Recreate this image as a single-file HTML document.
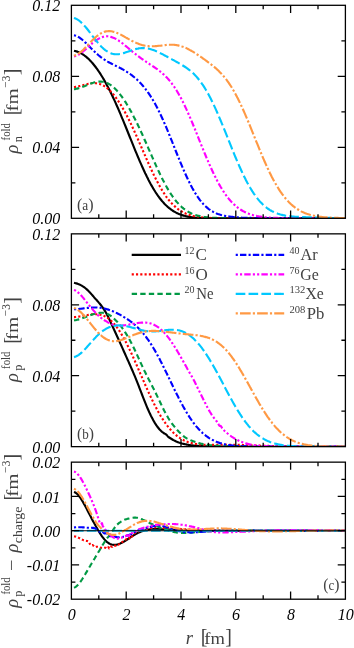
<!DOCTYPE html>
<html><head><meta charset="utf-8"><title>densities</title>
<style>
html,body{margin:0;padding:0;background:#fff;}
svg{display:block;}
.tk{font-family:"Liberation Serif","DejaVu Serif",serif;font-style:italic;font-size:16px;fill:#000;}
.cm{font-family:"Liberation Serif","DejaVu Serif",serif;fill:#424242;}
.it{font-style:italic;}
.cv{fill:none;stroke-width:2.14;stroke-linejoin:round;}
.fr{fill:none;stroke:#000;stroke-width:1.30;}
</style></head><body>
<svg width="354" height="648" viewBox="0 0 354 648">
<rect x="0" y="0" width="354" height="648" fill="#ffffff"/>
<g opacity="0.999">
<defs>
<clipPath id="clipa"><rect x="71.40" y="5.30" width="274.00" height="213.00"/></clipPath>
<clipPath id="clipb"><rect x="71.40" y="233.85" width="274.00" height="212.80"/></clipPath>
<clipPath id="clipc"><rect x="71.40" y="462.15" width="274.00" height="137.05"/></clipPath>
</defs>
<g clip-path="url(#clipa)">
<path class="cv" stroke="#000000" d="M74.0,50.8 L74.8,51.0 L75.6,51.1 L76.4,51.4 L77.2,51.6 L78.0,51.9 L78.8,52.2 L79.6,52.6 L80.4,53.0 L81.2,53.4 L82.0,53.8 L82.8,54.3 L83.6,54.9 L84.4,55.5 L85.2,56.1 L86.0,56.7 L86.8,57.4 L87.6,58.1 L88.4,58.8 L89.2,59.6 L90.0,60.4 L90.8,61.2 L91.6,62.1 L92.4,63.0 L93.2,64.0 L94.0,65.0 L94.8,66.0 L95.6,67.0 L96.4,68.1 L97.2,69.2 L98.0,70.3 L98.8,71.5 L99.6,72.7 L100.4,73.9 L101.2,75.2 L102.0,76.5 L102.8,77.8 L103.6,79.1 L104.4,80.5 L105.2,81.9 L106.0,83.4 L106.8,84.9 L107.6,86.4 L108.4,87.9 L109.2,89.5 L110.0,91.1 L110.8,92.7 L111.6,94.3 L112.4,96.0 L113.2,97.7 L114.0,99.4 L114.8,101.1 L115.6,102.9 L116.4,104.7 L117.2,106.5 L118.0,108.3 L118.8,110.2 L119.6,112.0 L120.4,113.9 L121.2,115.8 L122.0,117.8 L122.8,119.7 L123.6,121.6 L124.4,123.6 L125.2,125.5 L126.0,127.5 L126.8,129.5 L127.6,131.5 L128.4,133.5 L129.2,135.5 L130.0,137.5 L130.8,139.4 L131.6,141.4 L132.4,143.4 L133.2,145.4 L134.0,147.3 L134.8,149.3 L135.6,151.3 L136.4,153.2 L137.2,155.1 L138.0,157.0 L138.8,158.9 L139.6,160.8 L140.4,162.6 L141.2,164.4 L142.0,166.2 L142.8,168.0 L143.6,169.8 L144.4,171.5 L145.2,173.2 L146.0,174.8 L146.8,176.5 L147.6,178.1 L148.4,179.7 L149.2,181.2 L150.0,182.7 L150.8,184.2 L151.6,185.6 L152.4,187.0 L153.2,188.4 L154.0,189.7 L154.8,191.0 L155.6,192.3 L156.4,193.5 L157.2,194.7 L158.0,195.8 L158.8,196.9 L159.6,198.0 L160.4,199.0 L161.2,200.0 L162.0,201.0 L162.8,201.9 L163.6,202.8 L164.4,203.7 L165.2,204.5 L166.0,205.3 L166.8,206.0 L167.6,206.8 L168.4,207.4 L169.2,208.1 L170.0,208.7 L170.8,209.3 L171.6,209.9 L172.4,210.5 L173.2,211.0 L174.0,211.5 L174.8,211.9 L175.6,212.4 L176.4,212.8 L177.2,213.2 L178.0,213.6 L178.8,213.9 L179.6,214.2 L180.4,214.5 L181.2,214.8 L182.0,215.1 L182.8,215.4 L183.6,215.6 L184.4,215.8 L185.2,216.0 L186.0,216.2 L186.8,216.4 L187.6,216.6 L188.4,216.7 L189.2,216.9 L190.0,217.0 L190.8,217.1 L191.6,217.3 L192.4,217.4 L193.2,217.5 L194.0,217.5 L194.8,217.6 L195.6,217.7 L196.4,217.8 L197.2,217.8 L198.0,217.9 L198.8,217.9 L199.6,218.0 L200.4,218.0 L201.2,218.1 L202.0,218.1 L202.8,218.1 L203.6,218.2 L204.4,218.2 L205.2,218.2 L206.0,218.2 L206.8,218.2 L207.6,218.3 L208.4,218.3 L209.2,218.3 L210.0,218.3 L210.8,218.3 L211.6,218.3 L212.4,218.3 L213.2,218.3 L214.0,218.3 L214.8,218.3 L215.6,218.3 L216.4,218.3 L217.2,218.3 L218.0,218.3 L218.8,218.3 L219.6,218.3 L220.4,218.3 L221.2,218.3 L222.0,218.3 L222.8,218.3 L223.6,218.3 L224.4,218.3 L225.2,218.3 L226.0,218.3 L226.8,218.3 L227.6,218.3 L228.4,218.3 L229.2,218.3 L230.0,218.3 L230.8,218.3 L231.6,218.3 L232.4,218.3 L233.2,218.3 L234.0,218.3 L234.8,218.3 L235.6,218.3 L236.4,218.3 L237.2,218.3 L238.0,218.3 L238.8,218.3 L239.6,218.3 L240.4,218.3 L241.2,218.3 L242.0,218.3 L242.8,218.3 L243.6,218.3 L244.4,218.3 L245.2,218.3 L246.0,218.3 L246.8,218.3 L247.6,218.3 L248.4,218.3 L249.2,218.3 L250.0,218.3 L250.8,218.3 L251.6,218.3 L252.4,218.3 L253.2,218.3 L254.0,218.3 L254.8,218.3 L255.6,218.3 L256.4,218.3 L257.2,218.3 L258.0,218.3 L258.8,218.3 L259.6,218.3 L260.4,218.3 L261.2,218.3 L262.0,218.3 L262.8,218.3 L263.6,218.3 L264.4,218.3 L265.2,218.3 L266.0,218.3 L266.8,218.3 L267.6,218.3 L268.4,218.3 L269.2,218.3 L270.0,218.3 L270.8,218.3 L271.6,218.3 L272.4,218.3 L273.2,218.3 L274.0,218.3 L274.8,218.3 L275.6,218.3 L276.4,218.3 L277.2,218.3 L278.0,218.3 L278.8,218.3 L279.6,218.3 L280.4,218.3 L281.2,218.3 L282.0,218.3 L282.8,218.3 L283.6,218.3 L284.4,218.3 L285.2,218.3 L286.0,218.3 L286.8,218.3 L287.6,218.3 L288.4,218.3 L289.2,218.3 L290.0,218.3 L290.8,218.3 L291.6,218.3 L292.4,218.3 L293.2,218.3 L294.0,218.3 L294.8,218.3 L295.6,218.3 L296.4,218.3 L297.2,218.3 L298.0,218.3 L298.8,218.3 L299.6,218.3 L300.4,218.3 L301.2,218.3 L302.0,218.3 L302.8,218.3 L303.6,218.3 L304.4,218.3 L305.2,218.3 L306.0,218.3 L306.8,218.3 L307.6,218.3 L308.4,218.3 L309.2,218.3 L310.0,218.3 L310.8,218.3 L311.6,218.3 L312.4,218.3 L313.2,218.3 L314.0,218.3 L314.8,218.3 L315.6,218.3 L316.4,218.3 L317.2,218.3 L318.0,218.3 L318.8,218.3 L319.6,218.3 L320.4,218.3 L321.2,218.3 L322.0,218.3 L322.8,218.3 L323.6,218.3 L324.4,218.3 L325.2,218.3 L326.0,218.3 L326.8,218.3 L327.6,218.3 L328.4,218.3 L329.2,218.3 L330.0,218.3 L330.8,218.3 L331.6,218.3 L332.4,218.3 L333.2,218.3 L334.0,218.3 L334.8,218.3 L335.6,218.3 L336.4,218.3 L337.2,218.3 L338.0,218.3 L338.8,218.3 L339.6,218.3 L340.4,218.3 L341.2,218.3 L342.0,218.3 L342.8,218.3 L343.6,218.3 L344.4,218.3 L345.2,218.3"/>
<path class="cv" stroke="#ff0000" stroke-dasharray="2.14,2.14" d="M74.0,87.1 L74.8,87.0 L75.6,86.9 L76.4,86.8 L77.2,86.6 L78.0,86.5 L78.8,86.3 L79.6,86.1 L80.4,85.9 L81.2,85.7 L82.0,85.5 L82.8,85.3 L83.6,85.0 L84.4,84.8 L85.2,84.6 L86.0,84.4 L86.8,84.2 L87.6,84.0 L88.4,83.8 L89.2,83.7 L90.0,83.5 L90.8,83.4 L91.6,83.3 L92.4,83.2 L93.2,83.2 L94.0,83.1 L94.8,83.1 L95.6,83.2 L96.4,83.3 L97.2,83.4 L98.0,83.5 L98.8,83.7 L99.6,83.9 L100.4,84.2 L101.2,84.5 L102.0,84.9 L102.8,85.3 L103.6,85.7 L104.4,86.2 L105.2,86.7 L106.0,87.2 L106.8,87.8 L107.6,88.5 L108.4,89.2 L109.2,89.9 L110.0,90.7 L110.8,91.5 L111.6,92.3 L112.4,93.2 L113.2,94.2 L114.0,95.1 L114.8,96.2 L115.6,97.2 L116.4,98.3 L117.2,99.4 L118.0,100.6 L118.8,101.8 L119.6,103.0 L120.4,104.3 L121.2,105.6 L122.0,106.9 L122.8,108.3 L123.6,109.7 L124.4,111.1 L125.2,112.6 L126.0,114.1 L126.8,115.6 L127.6,117.2 L128.4,118.7 L129.2,120.3 L130.0,122.0 L130.8,123.6 L131.6,125.3 L132.4,127.0 L133.2,128.7 L134.0,130.5 L134.8,132.2 L135.6,134.0 L136.4,135.8 L137.2,137.6 L138.0,139.4 L138.8,141.2 L139.6,143.1 L140.4,144.9 L141.2,146.7 L142.0,148.6 L142.8,150.4 L143.6,152.3 L144.4,154.1 L145.2,155.9 L146.0,157.8 L146.8,159.6 L147.6,161.4 L148.4,163.2 L149.2,165.0 L150.0,166.7 L150.8,168.5 L151.6,170.2 L152.4,171.9 L153.2,173.6 L154.0,175.3 L154.8,176.9 L155.6,178.5 L156.4,180.1 L157.2,181.6 L158.0,183.1 L158.8,184.6 L159.6,186.0 L160.4,187.4 L161.2,188.8 L162.0,190.1 L162.8,191.4 L163.6,192.7 L164.4,193.9 L165.2,195.1 L166.0,196.3 L166.8,197.4 L167.6,198.4 L168.4,199.5 L169.2,200.5 L170.0,201.4 L170.8,202.4 L171.6,203.2 L172.4,204.1 L173.2,204.9 L174.0,205.7 L174.8,206.4 L175.6,207.1 L176.4,207.8 L177.2,208.5 L178.0,209.1 L178.8,209.7 L179.6,210.2 L180.4,210.7 L181.2,211.2 L182.0,211.7 L182.8,212.2 L183.6,212.6 L184.4,213.0 L185.2,213.3 L186.0,213.7 L186.8,214.0 L187.6,214.3 L188.4,214.6 L189.2,214.9 L190.0,215.1 L190.8,215.4 L191.6,215.6 L192.4,215.8 L193.2,216.0 L194.0,216.2 L194.8,216.4 L195.6,216.5 L196.4,216.7 L197.2,216.8 L198.0,216.9 L198.8,217.0 L199.6,217.1 L200.4,217.2 L201.2,217.3 L202.0,217.4 L202.8,217.5 L203.6,217.6 L204.4,217.6 L205.2,217.7 L206.0,217.7 L206.8,217.8 L207.6,217.8 L208.4,217.9 L209.2,217.9 L210.0,217.9 L210.8,218.0 L211.6,218.0 L212.4,218.0 L213.2,218.0 L214.0,218.1 L214.8,218.1 L215.6,218.1 L216.4,218.1 L217.2,218.1 L218.0,218.2 L218.8,218.2 L219.6,218.2 L220.4,218.2 L221.2,218.2 L222.0,218.2 L222.8,218.2 L223.6,218.2 L224.4,218.2 L225.2,218.2 L226.0,218.2 L226.8,218.2 L227.6,218.2 L228.4,218.2 L229.2,218.2 L230.0,218.3 L230.8,218.3 L231.6,218.3 L232.4,218.3 L233.2,218.3 L234.0,218.3 L234.8,218.3 L235.6,218.3 L236.4,218.3 L237.2,218.3 L238.0,218.3 L238.8,218.3 L239.6,218.3 L240.4,218.3 L241.2,218.3 L242.0,218.3 L242.8,218.3 L243.6,218.3 L244.4,218.3 L245.2,218.3 L246.0,218.3 L246.8,218.3 L247.6,218.3 L248.4,218.3 L249.2,218.3 L250.0,218.3 L250.8,218.3 L251.6,218.3 L252.4,218.3 L253.2,218.3 L254.0,218.3 L254.8,218.3 L255.6,218.3 L256.4,218.3 L257.2,218.3 L258.0,218.3 L258.8,218.3 L259.6,218.3 L260.4,218.3 L261.2,218.3 L262.0,218.3 L262.8,218.3 L263.6,218.3 L264.4,218.3 L265.2,218.3 L266.0,218.3 L266.8,218.3 L267.6,218.3 L268.4,218.3 L269.2,218.3 L270.0,218.3 L270.8,218.3 L271.6,218.3 L272.4,218.3 L273.2,218.3 L274.0,218.3 L274.8,218.3 L275.6,218.3 L276.4,218.3 L277.2,218.3 L278.0,218.3 L278.8,218.3 L279.6,218.3 L280.4,218.3 L281.2,218.3 L282.0,218.3 L282.8,218.3 L283.6,218.3 L284.4,218.3 L285.2,218.3 L286.0,218.3 L286.8,218.3 L287.6,218.3 L288.4,218.3 L289.2,218.3 L290.0,218.3 L290.8,218.3 L291.6,218.3 L292.4,218.3 L293.2,218.3 L294.0,218.3 L294.8,218.3 L295.6,218.3 L296.4,218.3 L297.2,218.3 L298.0,218.3 L298.8,218.3 L299.6,218.3 L300.4,218.3 L301.2,218.3 L302.0,218.3 L302.8,218.3 L303.6,218.3 L304.4,218.3 L305.2,218.3 L306.0,218.3 L306.8,218.3 L307.6,218.3 L308.4,218.3 L309.2,218.3 L310.0,218.3 L310.8,218.3 L311.6,218.3 L312.4,218.3 L313.2,218.3 L314.0,218.3 L314.8,218.3 L315.6,218.3 L316.4,218.3 L317.2,218.3 L318.0,218.3 L318.8,218.3 L319.6,218.3 L320.4,218.3 L321.2,218.3 L322.0,218.3 L322.8,218.3 L323.6,218.3 L324.4,218.3 L325.2,218.3 L326.0,218.3 L326.8,218.3 L327.6,218.3 L328.4,218.3 L329.2,218.3 L330.0,218.3 L330.8,218.3 L331.6,218.3 L332.4,218.3 L333.2,218.3 L334.0,218.3 L334.8,218.3 L335.6,218.3 L336.4,218.3 L337.2,218.3 L338.0,218.3 L338.8,218.3 L339.6,218.3 L340.4,218.3 L341.2,218.3 L342.0,218.3 L342.8,218.3 L343.6,218.3 L344.4,218.3 L345.2,218.3"/>
<path class="cv" stroke="#009944" stroke-dasharray="5.35,3.21" d="M74.0,89.2 L74.8,89.1 L75.6,88.9 L76.4,88.8 L77.2,88.6 L78.0,88.4 L78.8,88.2 L79.6,87.9 L80.4,87.7 L81.2,87.4 L82.0,87.1 L82.8,86.8 L83.6,86.5 L84.4,86.2 L85.2,85.9 L86.0,85.5 L86.8,85.2 L87.6,84.9 L88.4,84.6 L89.2,84.2 L90.0,83.9 L90.8,83.6 L91.6,83.3 L92.4,83.0 L93.2,82.8 L94.0,82.5 L94.8,82.3 L95.6,82.1 L96.4,81.9 L97.2,81.8 L98.0,81.7 L98.8,81.6 L99.6,81.6 L100.4,81.6 L101.2,81.6 L102.0,81.7 L102.8,81.8 L103.6,81.9 L104.4,82.1 L105.2,82.3 L106.0,82.6 L106.8,82.9 L107.6,83.3 L108.4,83.7 L109.2,84.1 L110.0,84.6 L110.8,85.1 L111.6,85.7 L112.4,86.3 L113.2,87.0 L114.0,87.7 L114.8,88.4 L115.6,89.2 L116.4,90.1 L117.2,90.9 L118.0,91.8 L118.8,92.8 L119.6,93.8 L120.4,94.8 L121.2,95.8 L122.0,96.9 L122.8,98.1 L123.6,99.2 L124.4,100.4 L125.2,101.7 L126.0,102.9 L126.8,104.2 L127.6,105.5 L128.4,106.9 L129.2,108.3 L130.0,109.7 L130.8,111.1 L131.6,112.6 L132.4,114.1 L133.2,115.6 L134.0,117.2 L134.8,118.7 L135.6,120.3 L136.4,121.9 L137.2,123.6 L138.0,125.2 L138.8,126.9 L139.6,128.6 L140.4,130.4 L141.2,132.1 L142.0,133.8 L142.8,135.6 L143.6,137.4 L144.4,139.2 L145.2,141.0 L146.0,142.8 L146.8,144.6 L147.6,146.4 L148.4,148.3 L149.2,150.1 L150.0,151.9 L150.8,153.7 L151.6,155.6 L152.4,157.4 L153.2,159.2 L154.0,161.0 L154.8,162.8 L155.6,164.6 L156.4,166.4 L157.2,168.1 L158.0,169.8 L158.8,171.6 L159.6,173.2 L160.4,174.9 L161.2,176.6 L162.0,178.2 L162.8,179.8 L163.6,181.3 L164.4,182.8 L165.2,184.3 L166.0,185.8 L166.8,187.2 L167.6,188.6 L168.4,190.0 L169.2,191.3 L170.0,192.6 L170.8,193.8 L171.6,195.0 L172.4,196.2 L173.2,197.3 L174.0,198.4 L174.8,199.5 L175.6,200.5 L176.4,201.5 L177.2,202.4 L178.0,203.3 L178.8,204.2 L179.6,205.0 L180.4,205.8 L181.2,206.5 L182.0,207.3 L182.8,207.9 L183.6,208.6 L184.4,209.2 L185.2,209.8 L186.0,210.4 L186.8,210.9 L187.6,211.4 L188.4,211.9 L189.2,212.3 L190.0,212.7 L190.8,213.1 L191.6,213.5 L192.4,213.8 L193.2,214.2 L194.0,214.5 L194.8,214.8 L195.6,215.0 L196.4,215.3 L197.2,215.5 L198.0,215.7 L198.8,215.9 L199.6,216.1 L200.4,216.3 L201.2,216.5 L202.0,216.6 L202.8,216.7 L203.6,216.9 L204.4,217.0 L205.2,217.1 L206.0,217.2 L206.8,217.3 L207.6,217.4 L208.4,217.4 L209.2,217.5 L210.0,217.6 L210.8,217.6 L211.6,217.7 L212.4,217.7 L213.2,217.8 L214.0,217.8 L214.8,217.9 L215.6,217.9 L216.4,217.9 L217.2,218.0 L218.0,218.0 L218.8,218.0 L219.6,218.0 L220.4,218.1 L221.2,218.1 L222.0,218.1 L222.8,218.1 L223.6,218.1 L224.4,218.1 L225.2,218.1 L226.0,218.1 L226.8,218.2 L227.6,218.2 L228.4,218.2 L229.2,218.2 L230.0,218.2 L230.8,218.2 L231.6,218.2 L232.4,218.2 L233.2,218.2 L234.0,218.2 L234.8,218.2 L235.6,218.2 L236.4,218.2 L237.2,218.2 L238.0,218.2 L238.8,218.2 L239.6,218.2 L240.4,218.2 L241.2,218.2 L242.0,218.2 L242.8,218.2 L243.6,218.2 L244.4,218.2 L245.2,218.2 L246.0,218.2 L246.8,218.2 L247.6,218.2 L248.4,218.2 L249.2,218.2 L250.0,218.2 L250.8,218.2 L251.6,218.2 L252.4,218.2 L253.2,218.2 L254.0,218.2 L254.8,218.2 L255.6,218.2 L256.4,218.2 L257.2,218.2 L258.0,218.2 L258.8,218.2 L259.6,218.2 L260.4,218.3 L261.2,218.3 L262.0,218.3 L262.8,218.3 L263.6,218.3 L264.4,218.3 L265.2,218.3 L266.0,218.3 L266.8,218.3 L267.6,218.3 L268.4,218.3 L269.2,218.3 L270.0,218.3 L270.8,218.3 L271.6,218.3 L272.4,218.3 L273.2,218.3 L274.0,218.3 L274.8,218.3 L275.6,218.3 L276.4,218.3 L277.2,218.3 L278.0,218.3 L278.8,218.3 L279.6,218.3 L280.4,218.3 L281.2,218.3 L282.0,218.3 L282.8,218.3 L283.6,218.3 L284.4,218.3 L285.2,218.3 L286.0,218.3 L286.8,218.3 L287.6,218.3 L288.4,218.3 L289.2,218.3 L290.0,218.3 L290.8,218.3 L291.6,218.3 L292.4,218.3 L293.2,218.3 L294.0,218.3 L294.8,218.3 L295.6,218.3 L296.4,218.3 L297.2,218.3 L298.0,218.3 L298.8,218.3 L299.6,218.3 L300.4,218.3 L301.2,218.3 L302.0,218.3 L302.8,218.3 L303.6,218.3 L304.4,218.3 L305.2,218.3 L306.0,218.3 L306.8,218.3 L307.6,218.3 L308.4,218.3 L309.2,218.3 L310.0,218.3 L310.8,218.3 L311.6,218.3 L312.4,218.3 L313.2,218.3 L314.0,218.3 L314.8,218.3 L315.6,218.3 L316.4,218.3 L317.2,218.3 L318.0,218.3 L318.8,218.3 L319.6,218.3 L320.4,218.3 L321.2,218.3 L322.0,218.3 L322.8,218.3 L323.6,218.3 L324.4,218.3 L325.2,218.3 L326.0,218.3 L326.8,218.3 L327.6,218.3 L328.4,218.3 L329.2,218.3 L330.0,218.3 L330.8,218.3 L331.6,218.3 L332.4,218.3 L333.2,218.3 L334.0,218.3 L334.8,218.3 L335.6,218.3 L336.4,218.3 L337.2,218.3 L338.0,218.3 L338.8,218.3 L339.6,218.3 L340.4,218.3 L341.2,218.3 L342.0,218.3 L342.8,218.3 L343.6,218.3 L344.4,218.3 L345.2,218.3"/>
<path class="cv" stroke="#0000ff" stroke-dasharray="2.14,2.14,6.42,2.14" d="M74.0,35.2 L74.8,35.4 L75.6,35.7 L76.4,36.0 L77.2,36.3 L78.0,36.8 L78.8,37.2 L79.6,37.7 L80.4,38.3 L81.2,38.9 L82.0,39.5 L82.8,40.2 L83.6,40.9 L84.4,41.6 L85.2,42.4 L86.0,43.1 L86.8,43.9 L87.6,44.7 L88.4,45.5 L89.2,46.3 L90.0,47.1 L90.8,48.0 L91.6,48.8 L92.4,49.6 L93.2,50.3 L94.0,51.1 L94.8,51.9 L95.6,52.6 L96.4,53.4 L97.2,54.1 L98.0,54.8 L98.8,55.5 L99.6,56.1 L100.4,56.8 L101.2,57.4 L102.0,58.0 L102.8,58.5 L103.6,59.1 L104.4,59.6 L105.2,60.1 L106.0,60.6 L106.8,61.1 L107.6,61.6 L108.4,62.0 L109.2,62.5 L110.0,62.9 L110.8,63.3 L111.6,63.7 L112.4,64.1 L113.2,64.5 L114.0,64.9 L114.8,65.3 L115.6,65.7 L116.4,66.1 L117.2,66.5 L118.0,66.9 L118.8,67.3 L119.6,67.7 L120.4,68.1 L121.2,68.5 L122.0,69.0 L122.8,69.4 L123.6,69.9 L124.4,70.3 L125.2,70.8 L126.0,71.3 L126.8,71.8 L127.6,72.3 L128.4,72.8 L129.2,73.4 L130.0,73.9 L130.8,74.5 L131.6,75.1 L132.4,75.7 L133.2,76.4 L134.0,77.0 L134.8,77.7 L135.6,78.4 L136.4,79.1 L137.2,79.8 L138.0,80.6 L138.8,81.4 L139.6,82.2 L140.4,83.0 L141.2,83.9 L142.0,84.8 L142.8,85.7 L143.6,86.6 L144.4,87.6 L145.2,88.6 L146.0,89.7 L146.8,90.7 L147.6,91.8 L148.4,93.0 L149.2,94.1 L150.0,95.3 L150.8,96.6 L151.6,97.9 L152.4,99.2 L153.2,100.5 L154.0,101.9 L154.8,103.3 L155.6,104.8 L156.4,106.3 L157.2,107.8 L158.0,109.4 L158.8,111.0 L159.6,112.6 L160.4,114.3 L161.2,116.0 L162.0,117.7 L162.8,119.5 L163.6,121.3 L164.4,123.1 L165.2,125.0 L166.0,126.8 L166.8,128.7 L167.6,130.6 L168.4,132.6 L169.2,134.5 L170.0,136.5 L170.8,138.5 L171.6,140.4 L172.4,142.4 L173.2,144.4 L174.0,146.4 L174.8,148.5 L175.6,150.5 L176.4,152.5 L177.2,154.5 L178.0,156.4 L178.8,158.4 L179.6,160.4 L180.4,162.3 L181.2,164.2 L182.0,166.1 L182.8,168.0 L183.6,169.9 L184.4,171.7 L185.2,173.5 L186.0,175.3 L186.8,177.0 L187.6,178.7 L188.4,180.4 L189.2,182.0 L190.0,183.6 L190.8,185.2 L191.6,186.7 L192.4,188.2 L193.2,189.6 L194.0,191.0 L194.8,192.4 L195.6,193.7 L196.4,194.9 L197.2,196.2 L198.0,197.3 L198.8,198.5 L199.6,199.6 L200.4,200.6 L201.2,201.6 L202.0,202.6 L202.8,203.5 L203.6,204.4 L204.4,205.2 L205.2,206.0 L206.0,206.7 L206.8,207.4 L207.6,208.1 L208.4,208.8 L209.2,209.4 L210.0,209.9 L210.8,210.5 L211.6,211.0 L212.4,211.4 L213.2,211.9 L214.0,212.3 L214.8,212.7 L215.6,213.0 L216.4,213.4 L217.2,213.7 L218.0,214.0 L218.8,214.2 L219.6,214.5 L220.4,214.7 L221.2,215.0 L222.0,215.2 L222.8,215.3 L223.6,215.5 L224.4,215.7 L225.2,215.9 L226.0,216.0 L226.8,216.1 L227.6,216.3 L228.4,216.4 L229.2,216.5 L230.0,216.6 L230.8,216.7 L231.6,216.8 L232.4,216.9 L233.2,217.0 L234.0,217.1 L234.8,217.2 L235.6,217.2 L236.4,217.3 L237.2,217.4 L238.0,217.4 L238.8,217.5 L239.6,217.5 L240.4,217.6 L241.2,217.6 L242.0,217.7 L242.8,217.7 L243.6,217.7 L244.4,217.8 L245.2,217.8 L246.0,217.8 L246.8,217.8 L247.6,217.9 L248.4,217.9 L249.2,217.9 L250.0,217.9 L250.8,217.9 L251.6,218.0 L252.4,218.0 L253.2,218.0 L254.0,218.0 L254.8,218.0 L255.6,218.0 L256.4,218.0 L257.2,218.0 L258.0,218.0 L258.8,218.1 L259.6,218.1 L260.4,218.1 L261.2,218.1 L262.0,218.1 L262.8,218.1 L263.6,218.1 L264.4,218.1 L265.2,218.1 L266.0,218.1 L266.8,218.1 L267.6,218.1 L268.4,218.1 L269.2,218.1 L270.0,218.2 L270.8,218.2 L271.6,218.2 L272.4,218.2 L273.2,218.2 L274.0,218.2 L274.8,218.2 L275.6,218.2 L276.4,218.2 L277.2,218.2 L278.0,218.2 L278.8,218.2 L279.6,218.2 L280.4,218.2 L281.2,218.2 L282.0,218.2 L282.8,218.2 L283.6,218.2 L284.4,218.2 L285.2,218.2 L286.0,218.2 L286.8,218.2 L287.6,218.2 L288.4,218.3 L289.2,218.3 L290.0,218.3 L290.8,218.3 L291.6,218.3 L292.4,218.3 L293.2,218.3 L294.0,218.3 L294.8,218.3 L295.6,218.3 L296.4,218.3 L297.2,218.3 L298.0,218.3 L298.8,218.3 L299.6,218.3 L300.4,218.3 L301.2,218.3 L302.0,218.3 L302.8,218.3 L303.6,218.3 L304.4,218.3 L305.2,218.3 L306.0,218.3 L306.8,218.3 L307.6,218.3 L308.4,218.3 L309.2,218.3 L310.0,218.3 L310.8,218.3 L311.6,218.3 L312.4,218.3 L313.2,218.3 L314.0,218.3 L314.8,218.3 L315.6,218.3 L316.4,218.3 L317.2,218.3 L318.0,218.3 L318.8,218.3 L319.6,218.3 L320.4,218.4 L321.2,218.4 L322.0,218.4 L322.8,218.4 L323.6,218.4 L324.4,218.4 L325.2,218.4 L326.0,218.4 L326.8,218.4 L327.6,218.4 L328.4,218.4 L329.2,218.4 L330.0,218.4 L330.8,218.4 L331.6,218.4 L332.4,218.4 L333.2,218.4 L334.0,218.4 L334.8,218.4 L335.6,218.4 L336.4,218.4 L337.2,218.4 L338.0,218.4 L338.8,218.4 L339.6,218.4 L340.4,218.4 L341.2,218.3 L342.0,218.3 L342.8,218.3 L343.6,218.3 L344.4,218.3 L345.2,218.3"/>
<path class="cv" stroke="#ff00ff" stroke-dasharray="2.14,2.14,2.14,2.14,6.42,2.14" d="M74.0,56.4 L74.8,56.2 L75.6,56.0 L76.4,55.7 L77.2,55.3 L78.0,54.9 L78.8,54.5 L79.6,54.0 L80.4,53.5 L81.2,52.9 L82.0,52.3 L82.8,51.7 L83.6,51.0 L84.4,50.4 L85.2,49.7 L86.0,49.0 L86.8,48.2 L87.6,47.5 L88.4,46.8 L89.2,46.1 L90.0,45.3 L90.8,44.6 L91.6,43.9 L92.4,43.2 L93.2,42.6 L94.0,41.9 L94.8,41.3 L95.6,40.7 L96.4,40.1 L97.2,39.6 L98.0,39.1 L98.8,38.6 L99.6,38.2 L100.4,37.8 L101.2,37.5 L102.0,37.2 L102.8,36.9 L103.6,36.7 L104.4,36.5 L105.2,36.4 L106.0,36.4 L106.8,36.3 L107.6,36.3 L108.4,36.4 L109.2,36.5 L110.0,36.7 L110.8,36.9 L111.6,37.1 L112.4,37.4 L113.2,37.7 L114.0,38.0 L114.8,38.4 L115.6,38.8 L116.4,39.2 L117.2,39.7 L118.0,40.2 L118.8,40.7 L119.6,41.3 L120.4,41.8 L121.2,42.4 L122.0,43.0 L122.8,43.6 L123.6,44.3 L124.4,44.9 L125.2,45.6 L126.0,46.2 L126.8,46.9 L127.6,47.5 L128.4,48.2 L129.2,48.9 L130.0,49.6 L130.8,50.2 L131.6,50.9 L132.4,51.6 L133.2,52.2 L134.0,52.9 L134.8,53.5 L135.6,54.1 L136.4,54.8 L137.2,55.4 L138.0,56.0 L138.8,56.6 L139.6,57.2 L140.4,57.8 L141.2,58.4 L142.0,59.0 L142.8,59.5 L143.6,60.1 L144.4,60.6 L145.2,61.2 L146.0,61.7 L146.8,62.3 L147.6,62.8 L148.4,63.3 L149.2,63.8 L150.0,64.4 L150.8,64.9 L151.6,65.4 L152.4,65.9 L153.2,66.5 L154.0,67.0 L154.8,67.5 L155.6,68.1 L156.4,68.7 L157.2,69.2 L158.0,69.8 L158.8,70.4 L159.6,71.0 L160.4,71.7 L161.2,72.3 L162.0,73.0 L162.8,73.7 L163.6,74.4 L164.4,75.1 L165.2,75.9 L166.0,76.7 L166.8,77.5 L167.6,78.4 L168.4,79.3 L169.2,80.2 L170.0,81.2 L170.8,82.2 L171.6,83.2 L172.4,84.3 L173.2,85.4 L174.0,86.5 L174.8,87.7 L175.6,89.0 L176.4,90.2 L177.2,91.5 L178.0,92.9 L178.8,94.2 L179.6,95.7 L180.4,97.1 L181.2,98.6 L182.0,100.2 L182.8,101.7 L183.6,103.3 L184.4,105.0 L185.2,106.7 L186.0,108.4 L186.8,110.1 L187.6,111.9 L188.4,113.7 L189.2,115.5 L190.0,117.4 L190.8,119.2 L191.6,121.1 L192.4,123.0 L193.2,125.0 L194.0,126.9 L194.8,128.9 L195.6,130.8 L196.4,132.8 L197.2,134.8 L198.0,136.8 L198.8,138.8 L199.6,140.8 L200.4,142.8 L201.2,144.8 L202.0,146.7 L202.8,148.7 L203.6,150.7 L204.4,152.6 L205.2,154.5 L206.0,156.5 L206.8,158.4 L207.6,160.2 L208.4,162.1 L209.2,163.9 L210.0,165.7 L210.8,167.5 L211.6,169.3 L212.4,171.0 L213.2,172.7 L214.0,174.4 L214.8,176.0 L215.6,177.6 L216.4,179.2 L217.2,180.7 L218.0,182.2 L218.8,183.7 L219.6,185.1 L220.4,186.5 L221.2,187.8 L222.0,189.1 L222.8,190.4 L223.6,191.6 L224.4,192.8 L225.2,194.0 L226.0,195.1 L226.8,196.2 L227.6,197.3 L228.4,198.3 L229.2,199.3 L230.0,200.2 L230.8,201.1 L231.6,202.0 L232.4,202.8 L233.2,203.6 L234.0,204.4 L234.8,205.1 L235.6,205.8 L236.4,206.5 L237.2,207.2 L238.0,207.8 L238.8,208.4 L239.6,209.0 L240.4,209.5 L241.2,210.0 L242.0,210.5 L242.8,211.0 L243.6,211.4 L244.4,211.8 L245.2,212.2 L246.0,212.6 L246.8,212.9 L247.6,213.3 L248.4,213.6 L249.2,213.9 L250.0,214.2 L250.8,214.4 L251.6,214.7 L252.4,214.9 L253.2,215.2 L254.0,215.4 L254.8,215.6 L255.6,215.8 L256.4,215.9 L257.2,216.1 L258.0,216.2 L258.8,216.4 L259.6,216.5 L260.4,216.6 L261.2,216.8 L262.0,216.9 L262.8,217.0 L263.6,217.1 L264.4,217.1 L265.2,217.2 L266.0,217.3 L266.8,217.4 L267.6,217.4 L268.4,217.5 L269.2,217.6 L270.0,217.6 L270.8,217.7 L271.6,217.7 L272.4,217.7 L273.2,217.8 L274.0,217.8 L274.8,217.8 L275.6,217.9 L276.4,217.9 L277.2,217.9 L278.0,218.0 L278.8,218.0 L279.6,218.0 L280.4,218.0 L281.2,218.0 L282.0,218.0 L282.8,218.1 L283.6,218.1 L284.4,218.1 L285.2,218.1 L286.0,218.1 L286.8,218.1 L287.6,218.1 L288.4,218.1 L289.2,218.1 L290.0,218.1 L290.8,218.1 L291.6,218.2 L292.4,218.2 L293.2,218.2 L294.0,218.2 L294.8,218.2 L295.6,218.2 L296.4,218.2 L297.2,218.2 L298.0,218.2 L298.8,218.2 L299.6,218.2 L300.4,218.2 L301.2,218.2 L302.0,218.2 L302.8,218.2 L303.6,218.2 L304.4,218.2 L305.2,218.2 L306.0,218.2 L306.8,218.2 L307.6,218.2 L308.4,218.2 L309.2,218.2 L310.0,218.2 L310.8,218.2 L311.6,218.2 L312.4,218.2 L313.2,218.2 L314.0,218.2 L314.8,218.2 L315.6,218.2 L316.4,218.2 L317.2,218.2 L318.0,218.2 L318.8,218.2 L319.6,218.2 L320.4,218.2 L321.2,218.2 L322.0,218.2 L322.8,218.2 L323.6,218.2 L324.4,218.2 L325.2,218.2 L326.0,218.2 L326.8,218.2 L327.6,218.2 L328.4,218.2 L329.2,218.2 L330.0,218.2 L330.8,218.2 L331.6,218.2 L332.4,218.2 L333.2,218.3 L334.0,218.3 L334.8,218.3 L335.6,218.3 L336.4,218.3 L337.2,218.3 L338.0,218.3 L338.8,218.3 L339.6,218.3 L340.4,218.3 L341.2,218.3 L342.0,218.3 L342.8,218.3 L343.6,218.3 L344.4,218.3 L345.2,218.3"/>
<path class="cv" stroke="#00c8ff" stroke-dasharray="9.63,3.21" d="M74.0,18.0 L74.8,18.3 L75.6,18.6 L76.4,18.9 L77.2,19.4 L78.0,19.9 L78.8,20.4 L79.6,21.0 L80.4,21.7 L81.2,22.4 L82.0,23.2 L82.8,24.0 L83.6,24.8 L84.4,25.7 L85.2,26.6 L86.0,27.5 L86.8,28.5 L87.6,29.5 L88.4,30.5 L89.2,31.6 L90.0,32.6 L90.8,33.7 L91.6,34.7 L92.4,35.8 L93.2,36.8 L94.0,37.9 L94.8,38.9 L95.6,39.9 L96.4,41.0 L97.2,41.9 L98.0,42.9 L98.8,43.8 L99.6,44.7 L100.4,45.6 L101.2,46.5 L102.0,47.3 L102.8,48.0 L103.6,48.8 L104.4,49.4 L105.2,50.1 L106.0,50.7 L106.8,51.2 L107.6,51.7 L108.4,52.2 L109.2,52.6 L110.0,53.0 L110.8,53.3 L111.6,53.6 L112.4,53.8 L113.2,54.0 L114.0,54.1 L114.8,54.2 L115.6,54.3 L116.4,54.3 L117.2,54.3 L118.0,54.2 L118.8,54.2 L119.6,54.0 L120.4,53.9 L121.2,53.7 L122.0,53.5 L122.8,53.3 L123.6,53.1 L124.4,52.9 L125.2,52.6 L126.0,52.3 L126.8,52.0 L127.6,51.8 L128.4,51.5 L129.2,51.2 L130.0,50.9 L130.8,50.6 L131.6,50.3 L132.4,50.1 L133.2,49.8 L134.0,49.6 L134.8,49.3 L135.6,49.1 L136.4,48.9 L137.2,48.7 L138.0,48.6 L138.8,48.4 L139.6,48.3 L140.4,48.2 L141.2,48.1 L142.0,48.1 L142.8,48.1 L143.6,48.1 L144.4,48.1 L145.2,48.2 L146.0,48.2 L146.8,48.4 L147.6,48.5 L148.4,48.6 L149.2,48.8 L150.0,49.0 L150.8,49.2 L151.6,49.5 L152.4,49.7 L153.2,50.0 L154.0,50.3 L154.8,50.6 L155.6,50.9 L156.4,51.3 L157.2,51.6 L158.0,52.0 L158.8,52.4 L159.6,52.8 L160.4,53.2 L161.2,53.6 L162.0,54.0 L162.8,54.4 L163.6,54.8 L164.4,55.3 L165.2,55.7 L166.0,56.1 L166.8,56.5 L167.6,57.0 L168.4,57.4 L169.2,57.8 L170.0,58.3 L170.8,58.7 L171.6,59.1 L172.4,59.6 L173.2,60.0 L174.0,60.4 L174.8,60.9 L175.6,61.3 L176.4,61.8 L177.2,62.2 L178.0,62.6 L178.8,63.1 L179.6,63.6 L180.4,64.0 L181.2,64.5 L182.0,65.0 L182.8,65.5 L183.6,66.0 L184.4,66.5 L185.2,67.0 L186.0,67.5 L186.8,68.1 L187.6,68.7 L188.4,69.3 L189.2,69.9 L190.0,70.5 L190.8,71.2 L191.6,71.9 L192.4,72.6 L193.2,73.3 L194.0,74.1 L194.8,74.9 L195.6,75.8 L196.4,76.6 L197.2,77.5 L198.0,78.5 L198.8,79.5 L199.6,80.5 L200.4,81.5 L201.2,82.6 L202.0,83.8 L202.8,84.9 L203.6,86.1 L204.4,87.4 L205.2,88.7 L206.0,90.0 L206.8,91.4 L207.6,92.8 L208.4,94.2 L209.2,95.7 L210.0,97.2 L210.8,98.8 L211.6,100.4 L212.4,102.0 L213.2,103.7 L214.0,105.4 L214.8,107.1 L215.6,108.9 L216.4,110.6 L217.2,112.5 L218.0,114.3 L218.8,116.2 L219.6,118.1 L220.4,120.0 L221.2,121.9 L222.0,123.8 L222.8,125.8 L223.6,127.8 L224.4,129.7 L225.2,131.7 L226.0,133.7 L226.8,135.7 L227.6,137.7 L228.4,139.7 L229.2,141.7 L230.0,143.7 L230.8,145.7 L231.6,147.7 L232.4,149.7 L233.2,151.7 L234.0,153.6 L234.8,155.6 L235.6,157.5 L236.4,159.4 L237.2,161.3 L238.0,163.1 L238.8,164.9 L239.6,166.8 L240.4,168.5 L241.2,170.3 L242.0,172.0 L242.8,173.7 L243.6,175.4 L244.4,177.0 L245.2,178.6 L246.0,180.2 L246.8,181.7 L247.6,183.2 L248.4,184.6 L249.2,186.1 L250.0,187.5 L250.8,188.8 L251.6,190.1 L252.4,191.4 L253.2,192.6 L254.0,193.8 L254.8,194.9 L255.6,196.1 L256.4,197.1 L257.2,198.2 L258.0,199.2 L258.8,200.1 L259.6,201.1 L260.4,202.0 L261.2,202.8 L262.0,203.6 L262.8,204.4 L263.6,205.2 L264.4,205.9 L265.2,206.6 L266.0,207.2 L266.8,207.9 L267.6,208.5 L268.4,209.0 L269.2,209.5 L270.0,210.1 L270.8,210.5 L271.6,211.0 L272.4,211.4 L273.2,211.8 L274.0,212.2 L274.8,212.6 L275.6,212.9 L276.4,213.2 L277.2,213.5 L278.0,213.8 L278.8,214.0 L279.6,214.3 L280.4,214.5 L281.2,214.7 L282.0,214.9 L282.8,215.1 L283.6,215.3 L284.4,215.4 L285.2,215.6 L286.0,215.7 L286.8,215.8 L287.6,215.9 L288.4,216.1 L289.2,216.1 L290.0,216.2 L290.8,216.3 L291.6,216.4 L292.4,216.5 L293.2,216.5 L294.0,216.6 L294.8,216.7 L295.6,216.7 L296.4,216.8 L297.2,216.8 L298.0,216.8 L298.8,216.9 L299.6,216.9 L300.4,217.0 L301.2,217.0 L302.0,217.0 L302.8,217.0 L303.6,217.1 L304.4,217.1 L305.2,217.1 L306.0,217.2 L306.8,217.2 L307.6,217.2 L308.4,217.2 L309.2,217.3 L310.0,217.3 L310.8,217.3 L311.6,217.3 L312.4,217.4 L313.2,217.4 L314.0,217.4 L314.8,217.4 L315.6,217.5 L316.4,217.5 L317.2,217.5 L318.0,217.5 L318.8,217.6 L319.6,217.6 L320.4,217.6 L321.2,217.7 L322.0,217.7 L322.8,217.7 L323.6,217.7 L324.4,217.8 L325.2,217.8 L326.0,217.8 L326.8,217.8 L327.6,217.9 L328.4,217.9 L329.2,217.9 L330.0,217.9 L330.8,218.0 L331.6,218.0 L332.4,218.0 L333.2,218.0 L334.0,218.1 L334.8,218.1 L335.6,218.1 L336.4,218.1 L337.2,218.2 L338.0,218.2 L338.8,218.2 L339.6,218.2 L340.4,218.2 L341.2,218.3 L342.0,218.3 L342.8,218.3 L343.6,218.3 L344.4,218.3 L345.2,218.3"/>
<path class="cv" stroke="#ff9944" stroke-dasharray="2.14,2.14,10.70,2.14" d="M74.0,55.7 L74.8,55.4 L75.6,55.1 L76.4,54.8 L77.2,54.4 L78.0,53.9 L78.8,53.4 L79.6,52.8 L80.4,52.2 L81.2,51.6 L82.0,50.9 L82.8,50.2 L83.6,49.4 L84.4,48.6 L85.2,47.8 L86.0,47.0 L86.8,46.1 L87.6,45.3 L88.4,44.4 L89.2,43.6 L90.0,42.7 L90.8,41.9 L91.6,41.1 L92.4,40.3 L93.2,39.5 L94.0,38.7 L94.8,37.9 L95.6,37.2 L96.4,36.5 L97.2,35.9 L98.0,35.3 L98.8,34.7 L99.6,34.1 L100.4,33.6 L101.2,33.2 L102.0,32.8 L102.8,32.4 L103.6,32.1 L104.4,31.8 L105.2,31.6 L106.0,31.4 L106.8,31.3 L107.6,31.2 L108.4,31.1 L109.2,31.1 L110.0,31.1 L110.8,31.2 L111.6,31.3 L112.4,31.5 L113.2,31.7 L114.0,31.9 L114.8,32.1 L115.6,32.4 L116.4,32.7 L117.2,33.0 L118.0,33.4 L118.8,33.7 L119.6,34.1 L120.4,34.5 L121.2,34.9 L122.0,35.3 L122.8,35.8 L123.6,36.2 L124.4,36.7 L125.2,37.1 L126.0,37.6 L126.8,38.0 L127.6,38.5 L128.4,38.9 L129.2,39.4 L130.0,39.8 L130.8,40.3 L131.6,40.7 L132.4,41.1 L133.2,41.5 L134.0,41.9 L134.8,42.3 L135.6,42.6 L136.4,43.0 L137.2,43.3 L138.0,43.6 L138.8,43.9 L139.6,44.2 L140.4,44.5 L141.2,44.7 L142.0,45.0 L142.8,45.2 L143.6,45.4 L144.4,45.5 L145.2,45.7 L146.0,45.8 L146.8,46.0 L147.6,46.1 L148.4,46.1 L149.2,46.2 L150.0,46.2 L150.8,46.3 L151.6,46.3 L152.4,46.3 L153.2,46.3 L154.0,46.2 L154.8,46.2 L155.6,46.1 L156.4,46.1 L157.2,46.0 L158.0,45.9 L158.8,45.8 L159.6,45.7 L160.4,45.7 L161.2,45.6 L162.0,45.5 L162.8,45.4 L163.6,45.3 L164.4,45.2 L165.2,45.1 L166.0,45.0 L166.8,44.9 L167.6,44.9 L168.4,44.8 L169.2,44.8 L170.0,44.7 L170.8,44.7 L171.6,44.7 L172.4,44.7 L173.2,44.8 L174.0,44.8 L174.8,44.9 L175.6,45.0 L176.4,45.1 L177.2,45.2 L178.0,45.4 L178.8,45.6 L179.6,45.8 L180.4,46.0 L181.2,46.2 L182.0,46.5 L182.8,46.7 L183.6,47.0 L184.4,47.3 L185.2,47.7 L186.0,48.0 L186.8,48.4 L187.6,48.8 L188.4,49.2 L189.2,49.6 L190.0,50.1 L190.8,50.5 L191.6,51.0 L192.4,51.4 L193.2,51.9 L194.0,52.4 L194.8,52.9 L195.6,53.4 L196.4,54.0 L197.2,54.5 L198.0,55.0 L198.8,55.5 L199.6,56.1 L200.4,56.6 L201.2,57.2 L202.0,57.7 L202.8,58.3 L203.6,58.9 L204.4,59.4 L205.2,60.0 L206.0,60.6 L206.8,61.2 L207.6,61.8 L208.4,62.4 L209.2,63.0 L210.0,63.6 L210.8,64.2 L211.6,64.8 L212.4,65.4 L213.2,66.1 L214.0,66.7 L214.8,67.4 L215.6,68.1 L216.4,68.8 L217.2,69.6 L218.0,70.3 L218.8,71.1 L219.6,71.9 L220.4,72.7 L221.2,73.5 L222.0,74.4 L222.8,75.3 L223.6,76.2 L224.4,77.2 L225.2,78.1 L226.0,79.2 L226.8,80.2 L227.6,81.3 L228.4,82.4 L229.2,83.6 L230.0,84.8 L230.8,86.0 L231.6,87.3 L232.4,88.6 L233.2,90.0 L234.0,91.3 L234.8,92.8 L235.6,94.2 L236.4,95.7 L237.2,97.3 L238.0,98.8 L238.8,100.4 L239.6,102.1 L240.4,103.8 L241.2,105.5 L242.0,107.2 L242.8,109.0 L243.6,110.8 L244.4,112.6 L245.2,114.4 L246.0,116.3 L246.8,118.2 L247.6,120.1 L248.4,122.0 L249.2,123.9 L250.0,125.9 L250.8,127.9 L251.6,129.8 L252.4,131.8 L253.2,133.8 L254.0,135.8 L254.8,137.8 L255.6,139.8 L256.4,141.8 L257.2,143.7 L258.0,145.7 L258.8,147.7 L259.6,149.6 L260.4,151.6 L261.2,153.5 L262.0,155.4 L262.8,157.3 L263.6,159.1 L264.4,161.0 L265.2,162.8 L266.0,164.6 L266.8,166.4 L267.6,168.1 L268.4,169.8 L269.2,171.5 L270.0,173.2 L270.8,174.8 L271.6,176.4 L272.4,177.9 L273.2,179.4 L274.0,180.9 L274.8,182.4 L275.6,183.8 L276.4,185.2 L277.2,186.5 L278.0,187.8 L278.8,189.1 L279.6,190.4 L280.4,191.6 L281.2,192.7 L282.0,193.9 L282.8,194.9 L283.6,196.0 L284.4,197.0 L285.2,198.0 L286.0,199.0 L286.8,199.9 L287.6,200.8 L288.4,201.6 L289.2,202.5 L290.0,203.2 L290.8,204.0 L291.6,204.7 L292.4,205.4 L293.2,206.1 L294.0,206.7 L294.8,207.3 L295.6,207.9 L296.4,208.5 L297.2,209.0 L298.0,209.5 L298.8,210.0 L299.6,210.5 L300.4,210.9 L301.2,211.4 L302.0,211.8 L302.8,212.1 L303.6,212.5 L304.4,212.8 L305.2,213.2 L306.0,213.5 L306.8,213.8 L307.6,214.0 L308.4,214.3 L309.2,214.5 L310.0,214.8 L310.8,215.0 L311.6,215.2 L312.4,215.4 L313.2,215.6 L314.0,215.8 L314.8,215.9 L315.6,216.1 L316.4,216.2 L317.2,216.4 L318.0,216.5 L318.8,216.6 L319.6,216.7 L320.4,216.8 L321.2,216.9 L322.0,217.0 L322.8,217.1 L323.6,217.2 L324.4,217.2 L325.2,217.3 L326.0,217.4 L326.8,217.4 L327.6,217.5 L328.4,217.5 L329.2,217.6 L330.0,217.6 L330.8,217.7 L331.6,217.7 L332.4,217.7 L333.2,217.8 L334.0,217.8 L334.8,217.8 L335.6,217.9 L336.4,217.9 L337.2,217.9 L338.0,217.9 L338.8,218.0 L339.6,218.0 L340.4,218.0 L341.2,218.0 L342.0,218.0 L342.8,218.0 L343.6,218.0 L344.4,218.1 L345.2,218.1"/>
</g>
<g clip-path="url(#clipb)">
<path class="cv" stroke="#000000" d="M74.0,282.8 L74.8,283.0 L75.6,283.2 L76.4,283.4 L77.2,283.6 L78.0,283.9 L78.8,284.2 L79.6,284.6 L80.4,284.9 L81.2,285.4 L82.0,285.8 L82.8,286.3 L83.6,286.8 L84.4,287.4 L85.2,288.0 L86.0,288.7 L86.8,289.4 L87.6,290.1 L88.4,290.9 L89.2,291.8 L90.0,292.6 L90.8,293.5 L91.6,294.4 L92.4,295.3 L93.2,296.2 L94.0,297.2 L94.8,298.1 L95.6,299.0 L96.4,299.8 L97.2,300.7 L98.0,301.6 L98.8,302.6 L99.6,303.5 L100.4,304.5 L101.2,305.5 L102.0,306.6 L102.8,307.7 L103.6,308.9 L104.4,310.1 L105.2,311.4 L106.0,312.8 L106.8,314.3 L107.6,315.8 L108.4,317.5 L109.2,319.1 L110.0,320.8 L110.8,322.6 L111.6,324.3 L112.4,326.0 L113.2,327.8 L114.0,329.5 L114.8,331.2 L115.6,333.0 L116.4,334.7 L117.2,336.5 L118.0,338.3 L118.8,340.0 L119.6,341.8 L120.4,343.6 L121.2,345.3 L122.0,347.1 L122.8,348.9 L123.6,350.7 L124.4,352.5 L125.2,354.3 L126.0,356.1 L126.8,357.9 L127.6,359.7 L128.4,361.4 L129.2,363.2 L130.0,365.0 L130.8,366.9 L131.6,368.7 L132.4,370.5 L133.2,372.4 L134.0,374.3 L134.8,376.2 L135.6,378.1 L136.4,380.1 L137.2,382.1 L138.0,384.1 L138.8,386.2 L139.6,388.3 L140.4,390.4 L141.2,392.4 L142.0,394.5 L142.8,396.6 L143.6,398.6 L144.4,400.7 L145.2,402.7 L146.0,404.7 L146.8,406.6 L147.6,408.5 L148.4,410.3 L149.2,412.1 L150.0,413.8 L150.8,415.5 L151.6,417.1 L152.4,418.6 L153.2,420.1 L154.0,421.5 L154.8,422.9 L155.6,424.1 L156.4,425.3 L157.2,426.5 L158.0,427.5 L158.8,428.5 L159.6,429.5 L160.4,430.3 L161.2,431.1 L162.0,431.8 L162.8,432.4 L163.6,433.0 L164.4,433.5 L165.2,433.9 L166.0,434.4 L166.8,435.1 L167.6,436.1 L168.4,437.0 L169.2,437.5 L170.0,438.0 L170.8,438.5 L171.6,439.0 L172.4,439.5 L173.2,440.0 L174.0,440.4 L174.8,440.8 L175.6,441.2 L176.4,441.6 L177.2,441.9 L178.0,442.2 L178.8,442.5 L179.6,442.7 L180.4,443.0 L181.2,443.2 L182.0,443.5 L182.8,443.7 L183.6,443.9 L184.4,444.1 L185.2,444.3 L186.0,444.4 L186.8,444.6 L187.6,444.8 L188.4,444.9 L189.2,445.0 L190.0,445.1 L190.8,445.2 L191.6,445.3 L192.4,445.4 L193.2,445.5 L194.0,445.6 L194.8,445.7 L195.6,445.7 L196.4,445.8 L197.2,445.9 L198.0,445.9 L198.8,446.0 L199.6,446.0 L200.4,446.0 L201.2,446.1 L202.0,446.1 L202.8,446.1 L203.6,446.2 L204.4,446.2 L205.2,446.2 L206.0,446.2 L206.8,446.3 L207.6,446.3 L208.4,446.3 L209.2,446.3 L210.0,446.3 L210.8,446.4 L211.6,446.4 L212.4,446.4 L213.2,446.4 L214.0,446.4 L214.8,446.4 L215.6,446.4 L216.4,446.4 L217.2,446.4 L218.0,446.5 L218.8,446.5 L219.6,446.5 L220.4,446.5 L221.2,446.5 L222.0,446.5 L222.8,446.5 L223.6,446.5 L224.4,446.5 L225.2,446.5 L226.0,446.5 L226.8,446.5 L227.6,446.5 L228.4,446.6 L229.2,446.6 L230.0,446.6 L230.8,446.6 L231.6,446.6 L232.4,446.6 L233.2,446.6 L234.0,446.6 L234.8,446.6 L235.6,446.6 L236.4,446.6 L237.2,446.6 L238.0,446.6 L238.8,446.6 L239.6,446.6 L240.4,446.6 L241.2,446.6 L242.0,446.6 L242.8,446.6 L243.6,446.6 L244.4,446.6 L245.2,446.6 L246.0,446.7 L246.8,446.7 L247.6,446.7 L248.4,446.7 L249.2,446.7 L250.0,446.7 L250.8,446.7 L251.6,446.7 L252.4,446.7 L253.2,446.7 L254.0,446.7 L254.8,446.7 L255.6,446.7 L256.4,446.7 L257.2,446.7 L258.0,446.7 L258.8,446.7 L259.6,446.7 L260.4,446.7 L261.2,446.7 L262.0,446.7 L262.8,446.7 L263.6,446.7 L264.4,446.7 L265.2,446.7 L266.0,446.7 L266.8,446.7 L267.6,446.7 L268.4,446.7 L269.2,446.7 L270.0,446.7 L270.8,446.7 L271.6,446.7 L272.4,446.7 L273.2,446.7 L274.0,446.7 L274.8,446.7 L275.6,446.7 L276.4,446.7 L277.2,446.7 L278.0,446.7 L278.8,446.7 L279.6,446.7 L280.4,446.7 L281.2,446.7 L282.0,446.7 L282.8,446.7 L283.6,446.7 L284.4,446.7 L285.2,446.7 L286.0,446.7 L286.8,446.7 L287.6,446.7 L288.4,446.7 L289.2,446.7 L290.0,446.7 L290.8,446.7 L291.6,446.7 L292.4,446.7 L293.2,446.7 L294.0,446.7 L294.8,446.7 L295.6,446.7 L296.4,446.7 L297.2,446.7 L298.0,446.7 L298.8,446.7 L299.6,446.7 L300.4,446.7 L301.2,446.7 L302.0,446.7 L302.8,446.7 L303.6,446.7 L304.4,446.7 L305.2,446.7 L306.0,446.7 L306.8,446.7 L307.6,446.7 L308.4,446.7 L309.2,446.6 L310.0,446.6 L310.8,446.6 L311.6,446.6 L312.4,446.6 L313.2,446.6 L314.0,446.6 L314.8,446.6 L315.6,446.6 L316.4,446.6 L317.2,446.6 L318.0,446.6 L318.8,446.6 L319.6,446.6 L320.4,446.6 L321.2,446.6 L322.0,446.6 L322.8,446.6 L323.6,446.6 L324.4,446.6 L325.2,446.6 L326.0,446.6 L326.8,446.6 L327.6,446.6 L328.4,446.6 L329.2,446.6 L330.0,446.6 L330.8,446.6 L331.6,446.6 L332.4,446.6 L333.2,446.6 L334.0,446.6 L334.8,446.6 L335.6,446.6 L336.4,446.6 L337.2,446.6 L338.0,446.6 L338.8,446.6 L339.6,446.6 L340.4,446.6 L341.2,446.6 L342.0,446.6 L342.8,446.6 L343.6,446.6 L344.4,446.6 L345.2,446.6"/>
<path class="cv" stroke="#ff0000" stroke-dasharray="2.14,2.14" d="M74.0,317.1 L74.8,317.1 L75.6,317.0 L76.4,316.9 L77.2,316.8 L78.0,316.7 L78.8,316.6 L79.6,316.5 L80.4,316.4 L81.2,316.2 L82.0,316.1 L82.8,315.9 L83.6,315.8 L84.4,315.6 L85.2,315.5 L86.0,315.3 L86.8,315.2 L87.6,315.0 L88.4,314.9 L89.2,314.8 L90.0,314.6 L90.8,314.5 L91.6,314.4 L92.4,314.3 L93.2,314.3 L94.0,314.2 L94.8,314.2 L95.6,314.2 L96.4,314.2 L97.2,314.3 L98.0,314.3 L98.8,314.5 L99.6,314.6 L100.4,314.8 L101.2,315.0 L102.0,315.2 L102.8,315.5 L103.6,315.8 L104.4,316.1 L105.2,316.5 L106.0,316.9 L106.8,317.4 L107.6,317.9 L108.4,318.5 L109.2,319.1 L110.0,319.8 L110.8,320.5 L111.6,321.2 L112.4,322.0 L113.2,322.8 L114.0,323.7 L114.8,324.7 L115.6,325.6 L116.4,326.7 L117.2,327.7 L118.0,328.9 L118.8,330.0 L119.6,331.2 L120.4,332.5 L121.2,333.8 L122.0,335.1 L122.8,336.5 L123.6,337.9 L124.4,339.3 L125.2,340.8 L126.0,342.3 L126.8,343.9 L127.6,345.5 L128.4,347.1 L129.2,348.7 L130.0,350.4 L130.8,352.1 L131.6,353.8 L132.4,355.6 L133.2,357.3 L134.0,359.1 L134.8,360.9 L135.6,362.7 L136.4,364.5 L137.2,366.4 L138.0,368.2 L138.8,370.1 L139.6,371.9 L140.4,373.8 L141.2,375.6 L142.0,377.4 L142.8,379.3 L143.6,381.1 L144.4,383.0 L145.2,384.8 L146.0,386.6 L146.8,388.4 L147.6,390.2 L148.4,391.9 L149.2,393.7 L150.0,395.4 L150.8,397.1 L151.6,398.8 L152.4,400.4 L153.2,402.1 L154.0,403.7 L154.8,405.2 L155.6,406.8 L156.4,408.3 L157.2,409.8 L158.0,411.3 L158.8,412.7 L159.6,414.1 L160.4,415.5 L161.2,416.8 L162.0,418.1 L162.8,419.3 L163.6,420.6 L164.4,421.8 L165.2,422.9 L166.0,424.0 L166.8,425.1 L167.6,426.2 L168.4,427.2 L169.2,428.2 L170.0,429.1 L170.8,430.0 L171.6,430.9 L172.4,431.7 L173.2,432.5 L174.0,433.3 L174.8,434.0 L175.6,434.7 L176.4,435.4 L177.2,436.1 L178.0,436.7 L178.8,437.3 L179.6,437.8 L180.4,438.3 L181.2,438.8 L182.0,439.3 L182.8,439.7 L183.6,440.2 L184.4,440.6 L185.2,440.9 L186.0,441.3 L186.8,441.6 L187.6,441.9 L188.4,442.2 L189.2,442.4 L190.0,442.7 L190.8,442.9 L191.6,443.1 L192.4,443.3 L193.2,443.5 L194.0,443.6 L194.8,443.8 L195.6,443.9 L196.4,444.0 L197.2,444.2 L198.0,444.3 L198.8,444.3 L199.6,444.4 L200.4,444.5 L201.2,444.5 L202.0,444.6 L202.8,444.6 L203.6,444.7 L204.4,444.7 L205.2,444.7 L206.0,444.8 L206.8,444.8 L207.6,444.8 L208.4,444.8 L209.2,444.8 L210.0,444.8 L210.8,444.8 L211.6,444.8 L212.4,444.8 L213.2,444.8 L214.0,444.8 L214.8,444.8 L215.6,444.8 L216.4,444.8 L217.2,444.7 L218.0,444.7 L218.8,444.7 L219.6,444.7 L220.4,444.7 L221.2,444.7 L222.0,444.7 L222.8,444.7 L223.6,444.7 L224.4,444.7 L225.2,444.7 L226.0,444.7 L226.8,444.7 L227.6,444.7 L228.4,444.7 L229.2,444.7 L230.0,444.7 L230.8,444.7 L231.6,444.7 L232.4,444.7 L233.2,444.8 L234.0,444.8 L234.8,444.8 L235.6,444.8 L236.4,444.8 L237.2,444.8 L238.0,444.9 L238.8,444.9 L239.6,444.9 L240.4,444.9 L241.2,445.0 L242.0,445.0 L242.8,445.0 L243.6,445.0 L244.4,445.1 L245.2,445.1 L246.0,445.1 L246.8,445.1 L247.6,445.2 L248.4,445.2 L249.2,445.2 L250.0,445.3 L250.8,445.3 L251.6,445.3 L252.4,445.4 L253.2,445.4 L254.0,445.4 L254.8,445.5 L255.6,445.5 L256.4,445.5 L257.2,445.5 L258.0,445.6 L258.8,445.6 L259.6,445.6 L260.4,445.7 L261.2,445.7 L262.0,445.7 L262.8,445.8 L263.6,445.8 L264.4,445.8 L265.2,445.8 L266.0,445.9 L266.8,445.9 L267.6,445.9 L268.4,445.9 L269.2,446.0 L270.0,446.0 L270.8,446.0 L271.6,446.0 L272.4,446.1 L273.2,446.1 L274.0,446.1 L274.8,446.1 L275.6,446.2 L276.4,446.2 L277.2,446.2 L278.0,446.2 L278.8,446.2 L279.6,446.2 L280.4,446.3 L281.2,446.3 L282.0,446.3 L282.8,446.3 L283.6,446.3 L284.4,446.3 L285.2,446.4 L286.0,446.4 L286.8,446.4 L287.6,446.4 L288.4,446.4 L289.2,446.4 L290.0,446.4 L290.8,446.4 L291.6,446.4 L292.4,446.5 L293.2,446.5 L294.0,446.5 L294.8,446.5 L295.6,446.5 L296.4,446.5 L297.2,446.5 L298.0,446.5 L298.8,446.5 L299.6,446.5 L300.4,446.5 L301.2,446.5 L302.0,446.5 L302.8,446.6 L303.6,446.6 L304.4,446.6 L305.2,446.6 L306.0,446.6 L306.8,446.6 L307.6,446.6 L308.4,446.6 L309.2,446.6 L310.0,446.6 L310.8,446.6 L311.6,446.6 L312.4,446.6 L313.2,446.6 L314.0,446.6 L314.8,446.6 L315.6,446.6 L316.4,446.6 L317.2,446.6 L318.0,446.6 L318.8,446.6 L319.6,446.6 L320.4,446.6 L321.2,446.6 L322.0,446.6 L322.8,446.6 L323.6,446.6 L324.4,446.6 L325.2,446.6 L326.0,446.6 L326.8,446.6 L327.6,446.6 L328.4,446.6 L329.2,446.6 L330.0,446.6 L330.8,446.6 L331.6,446.6 L332.4,446.6 L333.2,446.6 L334.0,446.6 L334.8,446.6 L335.6,446.6 L336.4,446.6 L337.2,446.6 L338.0,446.6 L338.8,446.6 L339.6,446.6 L340.4,446.6 L341.2,446.6 L342.0,446.6 L342.8,446.6 L343.6,446.6 L344.4,446.6 L345.2,446.7"/>
<path class="cv" stroke="#009944" stroke-dasharray="5.35,3.21" d="M74.0,320.4 L74.8,320.3 L75.6,320.2 L76.4,320.0 L77.2,319.8 L78.0,319.6 L78.8,319.4 L79.6,319.2 L80.4,318.9 L81.2,318.7 L82.0,318.4 L82.8,318.1 L83.6,317.8 L84.4,317.5 L85.2,317.2 L86.0,316.9 L86.8,316.6 L87.6,316.3 L88.4,316.0 L89.2,315.7 L90.0,315.4 L90.8,315.1 L91.6,314.8 L92.4,314.5 L93.2,314.3 L94.0,314.0 L94.8,313.8 L95.6,313.6 L96.4,313.4 L97.2,313.3 L98.0,313.1 L98.8,313.0 L99.6,312.9 L100.4,312.8 L101.2,312.8 L102.0,312.8 L102.8,312.8 L103.6,312.9 L104.4,313.0 L105.2,313.2 L106.0,313.4 L106.8,313.7 L107.6,314.0 L108.4,314.4 L109.2,314.8 L110.0,315.3 L110.8,315.9 L111.6,316.5 L112.4,317.2 L113.2,317.9 L114.0,318.6 L114.8,319.4 L115.6,320.2 L116.4,321.0 L117.2,321.8 L118.0,322.7 L118.8,323.7 L119.6,324.6 L120.4,325.6 L121.2,326.6 L122.0,327.7 L122.8,328.8 L123.6,329.9 L124.4,331.1 L125.2,332.3 L126.0,333.6 L126.8,334.9 L127.6,336.2 L128.4,337.6 L129.2,339.0 L130.0,340.5 L130.8,342.0 L131.6,343.5 L132.4,345.1 L133.2,346.7 L134.0,348.3 L134.8,350.0 L135.6,351.7 L136.4,353.4 L137.2,355.1 L138.0,356.9 L138.8,358.6 L139.6,360.4 L140.4,362.2 L141.2,363.9 L142.0,365.6 L142.8,367.4 L143.6,369.0 L144.4,370.7 L145.2,372.3 L146.0,373.9 L146.8,375.5 L147.6,377.1 L148.4,378.7 L149.2,380.2 L150.0,381.8 L150.8,383.3 L151.6,384.8 L152.4,386.4 L153.2,388.0 L154.0,389.5 L154.8,391.1 L155.6,392.8 L156.4,394.4 L157.2,396.1 L158.0,397.8 L158.8,399.5 L159.6,401.1 L160.4,402.8 L161.2,404.5 L162.0,406.2 L162.8,407.8 L163.6,409.4 L164.4,411.0 L165.2,412.5 L166.0,414.0 L166.8,415.4 L167.6,416.8 L168.4,418.2 L169.2,419.5 L170.0,420.7 L170.8,421.9 L171.6,423.0 L172.4,424.1 L173.2,425.2 L174.0,426.2 L174.8,427.2 L175.6,428.2 L176.4,429.1 L177.2,430.0 L178.0,430.8 L178.8,431.7 L179.6,432.5 L180.4,433.3 L181.2,434.1 L182.0,434.8 L182.8,435.5 L183.6,436.2 L184.4,436.8 L185.2,437.4 L186.0,437.9 L186.8,438.4 L187.6,438.8 L188.4,439.2 L189.2,439.6 L190.0,439.9 L190.8,440.3 L191.6,440.6 L192.4,440.9 L193.2,441.2 L194.0,441.5 L194.8,441.8 L195.6,442.1 L196.4,442.4 L197.2,442.6 L198.0,442.9 L198.8,443.1 L199.6,443.3 L200.4,443.5 L201.2,443.7 L202.0,443.9 L202.8,444.1 L203.6,444.2 L204.4,444.4 L205.2,444.5 L206.0,444.6 L206.8,444.8 L207.6,444.9 L208.4,445.0 L209.2,445.1 L210.0,445.2 L210.8,445.3 L211.6,445.3 L212.4,445.4 L213.2,445.5 L214.0,445.6 L214.8,445.6 L215.6,445.7 L216.4,445.7 L217.2,445.8 L218.0,445.8 L218.8,445.9 L219.6,445.9 L220.4,446.0 L221.2,446.0 L222.0,446.0 L222.8,446.1 L223.6,446.1 L224.4,446.1 L225.2,446.2 L226.0,446.2 L226.8,446.2 L227.6,446.2 L228.4,446.3 L229.2,446.3 L230.0,446.3 L230.8,446.3 L231.6,446.3 L232.4,446.4 L233.2,446.4 L234.0,446.4 L234.8,446.4 L235.6,446.4 L236.4,446.4 L237.2,446.4 L238.0,446.5 L238.8,446.5 L239.6,446.5 L240.4,446.5 L241.2,446.5 L242.0,446.5 L242.8,446.5 L243.6,446.6 L244.4,446.6 L245.2,446.6 L246.0,446.6 L246.8,446.6 L247.6,446.6 L248.4,446.6 L249.2,446.6 L250.0,446.6 L250.8,446.6 L251.6,446.6 L252.4,446.7 L253.2,446.7 L254.0,446.7 L254.8,446.7 L255.6,446.7 L256.4,446.7 L257.2,446.7 L258.0,446.7 L258.8,446.7 L259.6,446.7 L260.4,446.7 L261.2,446.7 L262.0,446.7 L262.8,446.7 L263.6,446.7 L264.4,446.7 L265.2,446.7 L266.0,446.7 L266.8,446.7 L267.6,446.7 L268.4,446.7 L269.2,446.7 L270.0,446.7 L270.8,446.7 L271.6,446.7 L272.4,446.7 L273.2,446.7 L274.0,446.7 L274.8,446.7 L275.6,446.7 L276.4,446.7 L277.2,446.7 L278.0,446.7 L278.8,446.7 L279.6,446.7 L280.4,446.7 L281.2,446.7 L282.0,446.7 L282.8,446.7 L283.6,446.7 L284.4,446.7 L285.2,446.7 L286.0,446.7 L286.8,446.7 L287.6,446.7 L288.4,446.7 L289.2,446.7 L290.0,446.7 L290.8,446.7 L291.6,446.7 L292.4,446.7 L293.2,446.7 L294.0,446.7 L294.8,446.7 L295.6,446.7 L296.4,446.7 L297.2,446.7 L298.0,446.7 L298.8,446.7 L299.6,446.7 L300.4,446.7 L301.2,446.7 L302.0,446.7 L302.8,446.7 L303.6,446.7 L304.4,446.7 L305.2,446.7 L306.0,446.7 L306.8,446.7 L307.6,446.7 L308.4,446.7 L309.2,446.7 L310.0,446.7 L310.8,446.7 L311.6,446.7 L312.4,446.7 L313.2,446.6 L314.0,446.6 L314.8,446.6 L315.6,446.6 L316.4,446.6 L317.2,446.6 L318.0,446.6 L318.8,446.6 L319.6,446.6 L320.4,446.6 L321.2,446.6 L322.0,446.6 L322.8,446.6 L323.6,446.6 L324.4,446.6 L325.2,446.6 L326.0,446.6 L326.8,446.6 L327.6,446.6 L328.4,446.6 L329.2,446.6 L330.0,446.6 L330.8,446.6 L331.6,446.6 L332.4,446.6 L333.2,446.6 L334.0,446.6 L334.8,446.6 L335.6,446.6 L336.4,446.6 L337.2,446.6 L338.0,446.6 L338.8,446.6 L339.6,446.6 L340.4,446.6 L341.2,446.6 L342.0,446.6 L342.8,446.6 L343.6,446.6 L344.4,446.6 L345.2,446.6"/>
<path class="cv" stroke="#0000ff" stroke-dasharray="2.14,2.14,6.42,2.14" d="M74.0,309.3 L74.8,309.3 L75.6,309.3 L76.4,309.2 L77.2,309.1 L78.0,309.1 L78.8,309.0 L79.6,308.9 L80.4,308.8 L81.2,308.7 L82.0,308.6 L82.8,308.5 L83.6,308.4 L84.4,308.3 L85.2,308.2 L86.0,308.1 L86.8,308.0 L87.6,307.9 L88.4,307.9 L89.2,307.8 L90.0,307.7 L90.8,307.6 L91.6,307.6 L92.4,307.5 L93.2,307.5 L94.0,307.5 L94.8,307.5 L95.6,307.5 L96.4,307.5 L97.2,307.5 L98.0,307.6 L98.8,307.6 L99.6,307.7 L100.4,307.8 L101.2,307.9 L102.0,308.1 L102.8,308.2 L103.6,308.4 L104.4,308.5 L105.2,308.7 L106.0,308.9 L106.8,309.2 L107.6,309.4 L108.4,309.6 L109.2,309.9 L110.0,310.2 L110.8,310.5 L111.6,310.8 L112.4,311.1 L113.2,311.4 L114.0,311.8 L114.8,312.1 L115.6,312.5 L116.4,312.9 L117.2,313.3 L118.0,313.7 L118.8,314.1 L119.6,314.5 L120.4,314.9 L121.2,315.4 L122.0,315.8 L122.8,316.3 L123.6,316.8 L124.4,317.3 L125.2,317.8 L126.0,318.3 L126.8,318.8 L127.6,319.3 L128.4,319.9 L129.2,320.4 L130.0,321.0 L130.8,321.6 L131.6,322.2 L132.4,322.8 L133.2,323.5 L134.0,324.2 L134.8,324.8 L135.6,325.5 L136.4,326.3 L137.2,327.0 L138.0,327.8 L138.8,328.6 L139.6,329.4 L140.4,330.2 L141.2,331.1 L142.0,332.0 L142.8,332.9 L143.6,333.9 L144.4,334.9 L145.2,335.9 L146.0,336.9 L146.8,338.0 L147.6,339.1 L148.4,340.2 L149.2,341.4 L150.0,342.6 L150.8,343.8 L151.6,345.1 L152.4,346.4 L153.2,347.7 L154.0,349.0 L154.8,350.4 L155.6,351.8 L156.4,353.2 L157.2,354.7 L158.0,356.1 L158.8,357.6 L159.6,359.1 L160.4,360.7 L161.2,362.2 L162.0,363.8 L162.8,365.4 L163.6,367.0 L164.4,368.6 L165.2,370.3 L166.0,371.9 L166.8,373.6 L167.6,375.2 L168.4,376.9 L169.2,378.6 L170.0,380.2 L170.8,381.9 L171.6,383.6 L172.4,385.2 L173.2,386.9 L174.0,388.5 L174.8,390.2 L175.6,391.8 L176.4,393.4 L177.2,395.0 L178.0,396.6 L178.8,398.2 L179.6,399.7 L180.4,401.3 L181.2,402.8 L182.0,404.3 L182.8,405.8 L183.6,407.2 L184.4,408.6 L185.2,410.0 L186.0,411.4 L186.8,412.7 L187.6,414.0 L188.4,415.3 L189.2,416.6 L190.0,417.8 L190.8,419.0 L191.6,420.2 L192.4,421.3 L193.2,422.4 L194.0,423.5 L194.8,424.5 L195.6,425.5 L196.4,426.5 L197.2,427.4 L198.0,428.3 L198.8,429.2 L199.6,430.1 L200.4,430.9 L201.2,431.7 L202.0,432.4 L202.8,433.2 L203.6,433.9 L204.4,434.6 L205.2,435.2 L206.0,435.8 L206.8,436.4 L207.6,437.0 L208.4,437.5 L209.2,438.1 L210.0,438.6 L210.8,439.0 L211.6,439.5 L212.4,439.9 L213.2,440.3 L214.0,440.7 L214.8,441.1 L215.6,441.4 L216.4,441.8 L217.2,442.1 L218.0,442.4 L218.8,442.6 L219.6,442.9 L220.4,443.2 L221.2,443.4 L222.0,443.6 L222.8,443.8 L223.6,444.0 L224.4,444.2 L225.2,444.4 L226.0,444.5 L226.8,444.7 L227.6,444.8 L228.4,445.0 L229.2,445.1 L230.0,445.2 L230.8,445.3 L231.6,445.4 L232.4,445.5 L233.2,445.6 L234.0,445.7 L234.8,445.8 L235.6,445.8 L236.4,445.9 L237.2,446.0 L238.0,446.0 L238.8,446.1 L239.6,446.1 L240.4,446.2 L241.2,446.2 L242.0,446.2 L242.8,446.3 L243.6,446.3 L244.4,446.3 L245.2,446.4 L246.0,446.4 L246.8,446.4 L247.6,446.4 L248.4,446.4 L249.2,446.5 L250.0,446.5 L250.8,446.5 L251.6,446.5 L252.4,446.5 L253.2,446.5 L254.0,446.5 L254.8,446.5 L255.6,446.6 L256.4,446.6 L257.2,446.6 L258.0,446.6 L258.8,446.6 L259.6,446.6 L260.4,446.6 L261.2,446.6 L262.0,446.6 L262.8,446.6 L263.6,446.6 L264.4,446.6 L265.2,446.6 L266.0,446.6 L266.8,446.6 L267.6,446.6 L268.4,446.6 L269.2,446.6 L270.0,446.6 L270.8,446.6 L271.6,446.6 L272.4,446.6 L273.2,446.6 L274.0,446.6 L274.8,446.6 L275.6,446.6 L276.4,446.6 L277.2,446.6 L278.0,446.6 L278.8,446.6 L279.6,446.6 L280.4,446.6 L281.2,446.6 L282.0,446.6 L282.8,446.6 L283.6,446.6 L284.4,446.6 L285.2,446.6 L286.0,446.6 L286.8,446.6 L287.6,446.6 L288.4,446.6 L289.2,446.6 L290.0,446.6 L290.8,446.6 L291.6,446.6 L292.4,446.6 L293.2,446.6 L294.0,446.6 L294.8,446.6 L295.6,446.6 L296.4,446.6 L297.2,446.6 L298.0,446.6 L298.8,446.6 L299.6,446.6 L300.4,446.6 L301.2,446.6 L302.0,446.6 L302.8,446.6 L303.6,446.6 L304.4,446.6 L305.2,446.6 L306.0,446.6 L306.8,446.6 L307.6,446.6 L308.4,446.6 L309.2,446.6 L310.0,446.6 L310.8,446.6 L311.6,446.6 L312.4,446.6 L313.2,446.6 L314.0,446.6 L314.8,446.6 L315.6,446.6 L316.4,446.6 L317.2,446.6 L318.0,446.6 L318.8,446.6 L319.6,446.6 L320.4,446.6 L321.2,446.6 L322.0,446.6 L322.8,446.6 L323.6,446.6 L324.4,446.6 L325.2,446.6 L326.0,446.6 L326.8,446.6 L327.6,446.6 L328.4,446.6 L329.2,446.6 L330.0,446.6 L330.8,446.6 L331.6,446.6 L332.4,446.6 L333.2,446.6 L334.0,446.6 L334.8,446.6 L335.6,446.6 L336.4,446.6 L337.2,446.6 L338.0,446.6 L338.8,446.6 L339.6,446.6 L340.4,446.6 L341.2,446.6 L342.0,446.6 L342.8,446.6 L343.6,446.6 L344.4,446.6 L345.2,446.6"/>
<path class="cv" stroke="#ff00ff" stroke-dasharray="2.14,2.14,2.14,2.14,6.42,2.14" d="M74.0,289.9 L74.8,290.2 L75.6,290.6 L76.4,291.1 L77.2,291.7 L78.0,292.4 L78.8,293.1 L79.6,293.8 L80.4,294.6 L81.2,295.5 L82.0,296.4 L82.8,297.4 L83.6,298.3 L84.4,299.3 L85.2,300.3 L86.0,301.4 L86.8,302.4 L87.6,303.4 L88.4,304.4 L89.2,305.4 L90.0,306.3 L90.8,307.3 L91.6,308.2 L92.4,309.1 L93.2,310.1 L94.0,311.0 L94.8,311.9 L95.6,312.8 L96.4,313.7 L97.2,314.5 L98.0,315.3 L98.8,316.1 L99.6,316.8 L100.4,317.4 L101.2,318.0 L102.0,318.6 L102.8,319.2 L103.6,319.7 L104.4,320.3 L105.2,320.7 L106.0,321.2 L106.8,321.7 L107.6,322.2 L108.4,322.6 L109.2,323.0 L110.0,323.4 L110.8,323.8 L111.6,324.1 L112.4,324.4 L113.2,324.7 L114.0,324.9 L114.8,325.1 L115.6,325.2 L116.4,325.4 L117.2,325.5 L118.0,325.5 L118.8,325.6 L119.6,325.6 L120.4,325.6 L121.2,325.6 L122.0,325.6 L122.8,325.5 L123.6,325.4 L124.4,325.3 L125.2,325.2 L126.0,325.1 L126.8,325.0 L127.6,324.9 L128.4,324.7 L129.2,324.6 L130.0,324.4 L130.8,324.3 L131.6,324.1 L132.4,324.0 L133.2,323.8 L134.0,323.7 L134.8,323.5 L135.6,323.4 L136.4,323.2 L137.2,323.1 L138.0,323.0 L138.8,322.9 L139.6,322.8 L140.4,322.7 L141.2,322.6 L142.0,322.6 L142.8,322.6 L143.6,322.5 L144.4,322.6 L145.2,322.6 L146.0,322.6 L146.8,322.7 L147.6,322.8 L148.4,323.0 L149.2,323.1 L150.0,323.3 L150.8,323.5 L151.6,323.8 L152.4,324.1 L153.2,324.4 L154.0,324.8 L154.8,325.2 L155.6,325.6 L156.4,326.1 L157.2,326.6 L158.0,327.1 L158.8,327.7 L159.6,328.3 L160.4,329.0 L161.2,329.7 L162.0,330.4 L162.8,331.2 L163.6,332.0 L164.4,332.9 L165.2,333.8 L166.0,334.7 L166.8,335.7 L167.6,336.7 L168.4,337.7 L169.2,338.7 L170.0,339.8 L170.8,341.0 L171.6,342.1 L172.4,343.3 L173.2,344.5 L174.0,345.7 L174.8,347.0 L175.6,348.3 L176.4,349.6 L177.2,350.9 L178.0,352.3 L178.8,353.6 L179.6,355.0 L180.4,356.4 L181.2,357.8 L182.0,359.2 L182.8,360.6 L183.6,362.0 L184.4,363.5 L185.2,364.9 L186.0,366.3 L186.8,367.7 L187.6,369.2 L188.4,370.6 L189.2,372.0 L190.0,373.4 L190.8,374.7 L191.6,376.1 L192.4,377.5 L193.2,378.9 L194.0,380.4 L194.8,382.0 L195.6,383.7 L196.4,385.4 L197.2,387.1 L198.0,388.7 L198.8,390.2 L199.6,391.8 L200.4,393.4 L201.2,395.1 L202.0,396.7 L202.8,398.3 L203.6,399.9 L204.4,401.5 L205.2,403.1 L206.0,404.7 L206.8,406.2 L207.6,407.7 L208.4,409.2 L209.2,410.6 L210.0,412.0 L210.8,413.3 L211.6,414.6 L212.4,415.8 L213.2,416.9 L214.0,418.0 L214.8,419.0 L215.6,420.0 L216.4,421.0 L217.2,422.0 L218.0,423.3 L218.8,424.8 L219.6,425.9 L220.4,425.8 L221.2,426.4 L222.0,427.9 L222.8,429.1 L223.6,429.9 L224.4,430.7 L225.2,431.4 L226.0,432.1 L226.8,432.8 L227.6,433.5 L228.4,434.1 L229.2,434.8 L230.0,435.4 L230.8,436.0 L231.6,436.6 L232.4,437.1 L233.2,437.6 L234.0,438.1 L234.8,438.6 L235.6,439.1 L236.4,439.5 L237.2,439.9 L238.0,440.3 L238.8,440.7 L239.6,441.1 L240.4,441.4 L241.2,441.8 L242.0,442.1 L242.8,442.4 L243.6,442.6 L244.4,442.9 L245.2,443.1 L246.0,443.4 L246.8,443.6 L247.6,443.8 L248.4,444.0 L249.2,444.2 L250.0,444.4 L250.8,444.5 L251.6,444.7 L252.4,444.8 L253.2,445.0 L254.0,445.1 L254.8,445.2 L255.6,445.3 L256.4,445.4 L257.2,445.5 L258.0,445.6 L258.8,445.7 L259.6,445.8 L260.4,445.8 L261.2,445.9 L262.0,446.0 L262.8,446.0 L263.6,446.1 L264.4,446.1 L265.2,446.2 L266.0,446.2 L266.8,446.3 L267.6,446.3 L268.4,446.3 L269.2,446.4 L270.0,446.4 L270.8,446.4 L271.6,446.5 L272.4,446.5 L273.2,446.5 L274.0,446.5 L274.8,446.5 L275.6,446.5 L276.4,446.6 L277.2,446.6 L278.0,446.6 L278.8,446.6 L279.6,446.6 L280.4,446.6 L281.2,446.6 L282.0,446.6 L282.8,446.6 L283.6,446.6 L284.4,446.6 L285.2,446.6 L286.0,446.6 L286.8,446.6 L287.6,446.7 L288.4,446.7 L289.2,446.7 L290.0,446.7 L290.8,446.7 L291.6,446.7 L292.4,446.7 L293.2,446.7 L294.0,446.7 L294.8,446.7 L295.6,446.7 L296.4,446.7 L297.2,446.7 L298.0,446.7 L298.8,446.7 L299.6,446.7 L300.4,446.7 L301.2,446.7 L302.0,446.7 L302.8,446.7 L303.6,446.7 L304.4,446.7 L305.2,446.7 L306.0,446.7 L306.8,446.7 L307.6,446.7 L308.4,446.7 L309.2,446.7 L310.0,446.7 L310.8,446.7 L311.6,446.7 L312.4,446.7 L313.2,446.7 L314.0,446.7 L314.8,446.7 L315.6,446.7 L316.4,446.7 L317.2,446.7 L318.0,446.7 L318.8,446.7 L319.6,446.6 L320.4,446.6 L321.2,446.6 L322.0,446.6 L322.8,446.6 L323.6,446.6 L324.4,446.6 L325.2,446.6 L326.0,446.6 L326.8,446.6 L327.6,446.6 L328.4,446.6 L329.2,446.6 L330.0,446.6 L330.8,446.6 L331.6,446.6 L332.4,446.6 L333.2,446.6 L334.0,446.6 L334.8,446.6 L335.6,446.6 L336.4,446.6 L337.2,446.6 L338.0,446.6 L338.8,446.6 L339.6,446.6 L340.4,446.6 L341.2,446.6 L342.0,446.6 L342.8,446.6 L343.6,446.6 L344.4,446.6 L345.2,446.6"/>
<path class="cv" stroke="#00c8ff" stroke-dasharray="9.63,3.21" d="M74.0,357.1 L74.8,356.9 L75.6,356.6 L76.4,356.2 L77.2,355.8 L78.0,355.3 L78.8,354.8 L79.6,354.2 L80.4,353.6 L81.2,352.9 L82.0,352.2 L82.8,351.4 L83.6,350.6 L84.4,349.8 L85.2,349.0 L86.0,348.1 L86.8,347.2 L87.6,346.3 L88.4,345.4 L89.2,344.5 L90.0,343.6 L90.8,342.7 L91.6,341.8 L92.4,340.8 L93.2,340.0 L94.0,339.1 L94.8,338.2 L95.6,337.4 L96.4,336.5 L97.2,335.7 L98.0,335.0 L98.8,334.2 L99.6,333.5 L100.4,332.8 L101.2,332.1 L102.0,331.5 L102.8,330.9 L103.6,330.3 L104.4,329.8 L105.2,329.3 L106.0,328.8 L106.8,328.4 L107.6,328.0 L108.4,327.6 L109.2,327.3 L110.0,327.0 L110.8,326.7 L111.6,326.5 L112.4,326.2 L113.2,326.0 L114.0,325.9 L114.8,325.7 L115.6,325.6 L116.4,325.5 L117.2,325.5 L118.0,325.4 L118.8,325.4 L119.6,325.4 L120.4,325.5 L121.2,325.5 L122.0,325.6 L122.8,325.6 L123.6,325.7 L124.4,325.9 L125.2,326.0 L126.0,326.1 L126.8,326.3 L127.6,326.5 L128.4,326.6 L129.2,326.8 L130.0,327.0 L130.8,327.2 L131.6,327.4 L132.4,327.7 L133.2,327.9 L134.0,328.1 L134.8,328.3 L135.6,328.6 L136.4,328.8 L137.2,329.0 L138.0,329.2 L138.8,329.4 L139.6,329.6 L140.4,329.8 L141.2,330.0 L142.0,330.2 L142.8,330.4 L143.6,330.6 L144.4,330.7 L145.2,330.9 L146.0,331.0 L146.8,331.1 L147.6,331.2 L148.4,331.3 L149.2,331.4 L150.0,331.4 L150.8,331.4 L151.6,331.5 L152.4,331.5 L153.2,331.5 L154.0,331.5 L154.8,331.4 L155.6,331.4 L156.4,331.3 L157.2,331.3 L158.0,331.2 L158.8,331.1 L159.6,331.0 L160.4,330.9 L161.2,330.8 L162.0,330.7 L162.8,330.6 L163.6,330.5 L164.4,330.4 L165.2,330.2 L166.0,330.1 L166.8,330.0 L167.6,330.0 L168.4,329.9 L169.2,329.8 L170.0,329.7 L170.8,329.7 L171.6,329.7 L172.4,329.7 L173.2,329.7 L174.0,329.7 L174.8,329.7 L175.6,329.8 L176.4,329.9 L177.2,330.0 L178.0,330.2 L178.8,330.3 L179.6,330.5 L180.4,330.7 L181.2,331.0 L182.0,331.3 L182.8,331.6 L183.6,331.9 L184.4,332.3 L185.2,332.7 L186.0,333.1 L186.8,333.5 L187.6,334.0 L188.4,334.6 L189.2,335.1 L190.0,335.7 L190.8,336.3 L191.6,337.0 L192.4,337.6 L193.2,338.3 L194.0,339.1 L194.8,339.9 L195.6,340.7 L196.4,341.5 L197.2,342.4 L198.0,343.3 L198.8,344.2 L199.6,345.2 L200.4,346.2 L201.2,347.2 L202.0,348.2 L202.8,349.3 L203.6,350.4 L204.4,351.6 L205.2,352.7 L206.0,353.9 L206.8,355.1 L207.6,356.4 L208.4,357.6 L209.2,358.9 L210.0,360.2 L210.8,361.6 L211.6,362.9 L212.4,364.3 L213.2,365.7 L214.0,367.1 L214.8,368.5 L215.6,369.9 L216.4,371.4 L217.2,372.8 L218.0,374.3 L218.8,375.8 L219.6,377.3 L220.4,378.8 L221.2,380.3 L222.0,381.8 L222.8,383.3 L223.6,384.9 L224.4,386.4 L225.2,387.9 L226.0,389.4 L226.8,390.9 L227.6,392.4 L228.4,393.9 L229.2,395.4 L230.0,396.9 L230.8,398.4 L231.6,399.8 L232.4,401.3 L233.2,402.7 L234.0,404.1 L234.8,405.5 L235.6,406.9 L236.4,408.2 L237.2,409.6 L238.0,410.9 L238.8,412.2 L239.6,413.4 L240.4,414.7 L241.2,415.9 L242.0,417.1 L242.8,418.3 L243.6,419.4 L244.4,420.5 L245.2,421.6 L246.0,422.6 L246.8,423.7 L247.6,424.7 L248.4,425.7 L249.2,426.6 L250.0,427.5 L250.8,428.4 L251.6,429.3 L252.4,430.1 L253.2,430.9 L254.0,431.7 L254.8,432.4 L255.6,433.1 L256.4,433.8 L257.2,434.5 L258.0,435.1 L258.8,435.7 L259.6,436.3 L260.4,436.9 L261.2,437.4 L262.0,438.0 L262.8,438.4 L263.6,438.9 L264.4,439.4 L265.2,439.8 L266.0,440.2 L266.8,440.6 L267.6,441.0 L268.4,441.3 L269.2,441.6 L270.0,442.0 L270.8,442.3 L271.6,442.5 L272.4,442.8 L273.2,443.1 L274.0,443.3 L274.8,443.5 L275.6,443.7 L276.4,443.9 L277.2,444.1 L278.0,444.3 L278.8,444.5 L279.6,444.6 L280.4,444.8 L281.2,444.9 L282.0,445.0 L282.8,445.2 L283.6,445.3 L284.4,445.4 L285.2,445.5 L286.0,445.6 L286.8,445.6 L287.6,445.7 L288.4,445.8 L289.2,445.9 L290.0,445.9 L290.8,446.0 L291.6,446.0 L292.4,446.1 L293.2,446.1 L294.0,446.2 L294.8,446.2 L295.6,446.3 L296.4,446.3 L297.2,446.3 L298.0,446.4 L298.8,446.4 L299.6,446.4 L300.4,446.4 L301.2,446.5 L302.0,446.5 L302.8,446.5 L303.6,446.5 L304.4,446.5 L305.2,446.5 L306.0,446.5 L306.8,446.6 L307.6,446.6 L308.4,446.6 L309.2,446.6 L310.0,446.6 L310.8,446.6 L311.6,446.6 L312.4,446.6 L313.2,446.6 L314.0,446.6 L314.8,446.6 L315.6,446.6 L316.4,446.6 L317.2,446.6 L318.0,446.6 L318.8,446.6 L319.6,446.6 L320.4,446.6 L321.2,446.6 L322.0,446.6 L322.8,446.6 L323.6,446.6 L324.4,446.7 L325.2,446.7 L326.0,446.7 L326.8,446.7 L327.6,446.7 L328.4,446.7 L329.2,446.7 L330.0,446.7 L330.8,446.7 L331.6,446.7 L332.4,446.7 L333.2,446.7 L334.0,446.7 L334.8,446.7 L335.6,446.7 L336.4,446.7 L337.2,446.7 L338.0,446.7 L338.8,446.7 L339.6,446.7 L340.4,446.7 L341.2,446.7 L342.0,446.7 L342.8,446.7 L343.6,446.7 L344.4,446.7 L345.2,446.7"/>
<path class="cv" stroke="#ff9944" stroke-dasharray="2.14,2.14,10.70,2.14" d="M74.0,307.9 L74.8,308.2 L75.6,308.6 L76.4,309.0 L77.2,309.5 L78.0,310.0 L78.8,310.6 L79.6,311.2 L80.4,311.9 L81.2,312.6 L82.0,313.4 L82.8,314.2 L83.6,315.1 L84.4,316.0 L85.2,316.9 L86.0,317.8 L86.8,318.8 L87.6,319.8 L88.4,320.8 L89.2,321.8 L90.0,322.8 L90.8,323.8 L91.6,324.8 L92.4,325.8 L93.2,326.8 L94.0,327.8 L94.8,328.8 L95.6,329.7 L96.4,330.6 L97.2,331.5 L98.0,332.4 L98.8,333.2 L99.6,334.0 L100.4,334.8 L101.2,335.5 L102.0,336.2 L102.8,336.9 L103.6,337.5 L104.4,338.0 L105.2,338.5 L106.0,339.0 L106.8,339.4 L107.6,339.8 L108.4,340.1 L109.2,340.4 L110.0,340.6 L110.8,340.8 L111.6,341.0 L112.4,341.1 L113.2,341.2 L114.0,341.2 L114.8,341.2 L115.6,341.2 L116.4,341.1 L117.2,341.0 L118.0,340.8 L118.8,340.7 L119.6,340.5 L120.4,340.2 L121.2,340.0 L122.0,339.7 L122.8,339.5 L123.6,339.2 L124.4,338.9 L125.2,338.5 L126.0,338.2 L126.8,337.9 L127.6,337.5 L128.4,337.2 L129.2,336.8 L130.0,336.5 L130.8,336.1 L131.6,335.8 L132.4,335.5 L133.2,335.1 L134.0,334.8 L134.8,334.5 L135.6,334.2 L136.4,333.9 L137.2,333.6 L138.0,333.4 L138.8,333.1 L139.6,332.9 L140.4,332.6 L141.2,332.4 L142.0,332.2 L142.8,332.0 L143.6,331.9 L144.4,331.7 L145.2,331.6 L146.0,331.4 L146.8,331.3 L147.6,331.2 L148.4,331.1 L149.2,331.1 L150.0,331.0 L150.8,331.0 L151.6,330.9 L152.4,330.9 L153.2,330.9 L154.0,330.9 L154.8,330.9 L155.6,330.9 L156.4,331.0 L157.2,331.0 L158.0,331.0 L158.8,331.1 L159.6,331.1 L160.4,331.2 L161.2,331.3 L162.0,331.4 L162.8,331.4 L163.6,331.5 L164.4,331.6 L165.2,331.7 L166.0,331.8 L166.8,331.9 L167.6,332.0 L168.4,332.1 L169.2,332.2 L170.0,332.3 L170.8,332.4 L171.6,332.5 L172.4,332.6 L173.2,332.7 L174.0,332.8 L174.8,332.9 L175.6,333.0 L176.4,333.1 L177.2,333.2 L178.0,333.3 L178.8,333.4 L179.6,333.5 L180.4,333.5 L181.2,333.6 L182.0,333.7 L182.8,333.8 L183.6,333.9 L184.4,334.0 L185.2,334.1 L186.0,334.1 L186.8,334.2 L187.6,334.3 L188.4,334.4 L189.2,334.5 L190.0,334.5 L190.8,334.6 L191.6,334.7 L192.4,334.8 L193.2,334.9 L194.0,335.0 L194.8,335.0 L195.6,335.1 L196.4,335.2 L197.2,335.3 L198.0,335.5 L198.8,335.6 L199.6,335.7 L200.4,335.8 L201.2,336.0 L202.0,336.1 L202.8,336.3 L203.6,336.5 L204.4,336.7 L205.2,336.9 L206.0,337.1 L206.8,337.3 L207.6,337.6 L208.4,337.8 L209.2,338.1 L210.0,338.4 L210.8,338.8 L211.6,339.1 L212.4,339.5 L213.2,339.9 L214.0,340.3 L214.8,340.7 L215.6,341.2 L216.4,341.7 L217.2,342.2 L218.0,342.8 L218.8,343.4 L219.6,344.0 L220.4,344.6 L221.2,345.3 L222.0,346.0 L222.8,346.7 L223.6,347.4 L224.4,348.2 L225.2,349.0 L226.0,349.9 L226.8,350.8 L227.6,351.7 L228.4,352.6 L229.2,353.6 L230.0,354.6 L230.8,355.6 L231.6,356.7 L232.4,357.8 L233.2,358.9 L234.0,360.0 L234.8,361.2 L235.6,362.4 L236.4,363.6 L237.2,364.9 L238.0,366.1 L238.8,367.4 L239.6,368.7 L240.4,370.1 L241.2,371.4 L242.0,372.8 L242.8,374.1 L243.6,375.5 L244.4,376.9 L245.2,378.4 L246.0,379.8 L246.8,381.2 L247.6,382.6 L248.4,384.1 L249.2,385.5 L250.0,387.0 L250.8,388.4 L251.6,389.9 L252.4,391.3 L253.2,392.8 L254.0,394.2 L254.8,395.7 L255.6,397.1 L256.4,398.5 L257.2,399.9 L258.0,401.3 L258.8,402.7 L259.6,404.1 L260.4,405.4 L261.2,406.8 L262.0,408.1 L262.8,409.4 L263.6,410.7 L264.4,411.9 L265.2,413.2 L266.0,414.4 L266.8,415.6 L267.6,416.8 L268.4,417.9 L269.2,419.0 L270.0,420.1 L270.8,421.2 L271.6,422.2 L272.4,423.3 L273.2,424.3 L274.0,425.2 L274.8,426.2 L275.6,427.1 L276.4,428.0 L277.2,428.8 L278.0,429.6 L278.8,430.4 L279.6,431.2 L280.4,432.0 L281.2,432.7 L282.0,433.4 L282.8,434.1 L283.6,434.7 L284.4,435.3 L285.2,435.9 L286.0,436.5 L286.8,437.1 L287.6,437.6 L288.4,438.1 L289.2,438.6 L290.0,439.1 L290.8,439.5 L291.6,440.0 L292.4,440.4 L293.2,440.7 L294.0,441.1 L294.8,441.5 L295.6,441.8 L296.4,442.1 L297.2,442.4 L298.0,442.7 L298.8,443.0 L299.6,443.2 L300.4,443.5 L301.2,443.7 L302.0,443.9 L302.8,444.1 L303.6,444.3 L304.4,444.5 L305.2,444.6 L306.0,444.8 L306.8,444.9 L307.6,445.1 L308.4,445.2 L309.2,445.3 L310.0,445.4 L310.8,445.5 L311.6,445.6 L312.4,445.7 L313.2,445.8 L314.0,445.9 L314.8,445.9 L315.6,446.0 L316.4,446.1 L317.2,446.1 L318.0,446.2 L318.8,446.2 L319.6,446.2 L320.4,446.3 L321.2,446.3 L322.0,446.3 L322.8,446.4 L323.6,446.4 L324.4,446.4 L325.2,446.4 L326.0,446.4 L326.8,446.5 L327.6,446.5 L328.4,446.5 L329.2,446.5 L330.0,446.5 L330.8,446.5 L331.6,446.5 L332.4,446.5 L333.2,446.5 L334.0,446.5 L334.8,446.5 L335.6,446.5 L336.4,446.5 L337.2,446.5 L338.0,446.5 L338.8,446.5 L339.6,446.5 L340.4,446.5 L341.2,446.5 L342.0,446.5 L342.8,446.5 L343.6,446.5 L344.4,446.5 L345.2,446.5"/>
</g>
<g clip-path="url(#clipc)">
<path class="cv" stroke="#000000" d="M74.0,492.0 L74.8,492.3 L75.6,492.7 L76.4,493.3 L77.2,494.0 L78.0,494.8 L78.8,495.8 L79.6,496.8 L80.4,497.9 L81.2,499.1 L82.0,500.4 L82.8,501.8 L83.6,503.2 L84.4,504.6 L85.2,506.1 L86.0,507.6 L86.8,509.1 L87.6,510.7 L88.4,512.2 L89.2,513.8 L90.0,515.3 L90.8,516.8 L91.6,518.4 L92.4,519.9 L93.2,521.4 L94.0,522.8 L94.8,524.3 L95.6,525.8 L96.4,527.2 L97.2,528.6 L98.0,530.0 L98.8,531.3 L99.6,532.6 L100.4,533.9 L101.2,535.1 L102.0,536.3 L102.8,537.4 L103.6,538.4 L104.4,539.4 L105.2,540.3 L106.0,541.1 L106.8,541.8 L107.6,542.4 L108.4,543.0 L109.2,543.5 L110.0,543.9 L110.8,544.2 L111.6,544.5 L112.4,544.7 L113.2,544.8 L114.0,544.9 L114.8,544.9 L115.6,544.8 L116.4,544.7 L117.2,544.5 L118.0,544.3 L118.8,544.0 L119.6,543.7 L120.4,543.4 L121.2,543.0 L122.0,542.7 L122.8,542.2 L123.6,541.8 L124.4,541.3 L125.2,540.8 L126.0,540.3 L126.8,539.8 L127.6,539.3 L128.4,538.7 L129.2,538.2 L130.0,537.7 L130.8,537.1 L131.6,536.6 L132.4,536.1 L133.2,535.6 L134.0,535.1 L134.8,534.6 L135.6,534.2 L136.4,533.7 L137.2,533.3 L138.0,532.9 L138.8,532.5 L139.6,532.2 L140.4,531.9 L141.2,531.5 L142.0,531.2 L142.8,531.0 L143.6,530.7 L144.4,530.5 L145.2,530.3 L146.0,530.1 L146.8,529.9 L147.6,529.8 L148.4,529.6 L149.2,529.5 L150.0,529.4 L150.8,529.3 L151.6,529.2 L152.4,529.2 L153.2,529.1 L154.0,529.1 L154.8,529.1 L155.6,529.1 L156.4,529.1 L157.2,529.1 L158.0,529.1 L158.8,529.1 L159.6,529.1 L160.4,529.2 L161.2,529.2 L162.0,529.2 L162.8,529.3 L163.6,529.3 L164.4,529.3 L165.2,529.4 L166.0,529.4 L166.8,529.4 L167.6,529.5 L168.4,529.5 L169.2,529.5 L170.0,529.6 L170.8,529.6 L171.6,529.7 L172.4,529.7 L173.2,529.7 L174.0,529.8 L174.8,529.8 L175.6,529.8 L176.4,529.8 L177.2,529.9 L178.0,529.9 L178.8,529.9 L179.6,530.0 L180.4,530.0 L181.2,530.0 L182.0,530.1 L182.8,530.1 L183.6,530.1 L184.4,530.1 L185.2,530.2 L186.0,530.2 L186.8,530.2 L187.6,530.2 L188.4,530.3 L189.2,530.3 L190.0,530.3 L190.8,530.3 L191.6,530.3 L192.4,530.4 L193.2,530.4 L194.0,530.4 L194.8,530.4 L195.6,530.4 L196.4,530.5 L197.2,530.5 L198.0,530.5 L198.8,530.5 L199.6,530.5 L200.4,530.5 L201.2,530.5 L202.0,530.6 L202.8,530.6 L203.6,530.6 L204.4,530.6 L205.2,530.6 L206.0,530.6 L206.8,530.6 L207.6,530.6 L208.4,530.7 L209.2,530.7 L210.0,530.7 L210.8,530.7 L211.6,530.7 L212.4,530.7 L213.2,530.7 L214.0,530.7 L214.8,530.7 L215.6,530.7 L216.4,530.7 L217.2,530.7 L218.0,530.7 L218.8,530.7 L219.6,530.8 L220.4,530.8 L221.2,530.8 L222.0,530.8 L222.8,530.8 L223.6,530.8 L224.4,530.8 L225.2,530.8 L226.0,530.8 L226.8,530.8 L227.6,530.8 L228.4,530.8 L229.2,530.8 L230.0,530.8 L230.8,530.8 L231.6,530.8 L232.4,530.8 L233.2,530.8 L234.0,530.8 L234.8,530.8 L235.6,530.8 L236.4,530.8 L237.2,530.8 L238.0,530.8 L238.8,530.8 L239.6,530.8 L240.4,530.8 L241.2,530.8 L242.0,530.8 L242.8,530.8 L243.6,530.8 L244.4,530.8 L245.2,530.8 L246.0,530.8 L246.8,530.8 L247.6,530.8 L248.4,530.8 L249.2,530.8 L250.0,530.8 L250.8,530.7 L251.6,530.7 L252.4,530.7 L253.2,530.7 L254.0,530.7 L254.8,530.7 L255.6,530.7 L256.4,530.7 L257.2,530.7 L258.0,530.7 L258.8,530.7 L259.6,530.7 L260.4,530.7 L261.2,530.7 L262.0,530.7 L262.8,530.7 L263.6,530.7 L264.4,530.7 L265.2,530.7 L266.0,530.7 L266.8,530.7 L267.6,530.7 L268.4,530.7 L269.2,530.7 L270.0,530.7 L270.8,530.6 L271.6,530.6 L272.4,530.6 L273.2,530.6 L274.0,530.6 L274.8,530.6 L275.6,530.6 L276.4,530.6 L277.2,530.6 L278.0,530.6 L278.8,530.6 L279.6,530.6 L280.4,530.6 L281.2,530.6 L282.0,530.6 L282.8,530.6 L283.6,530.6 L284.4,530.6 L285.2,530.6 L286.0,530.6 L286.8,530.6 L287.6,530.6 L288.4,530.6 L289.2,530.6 L290.0,530.6 L290.8,530.6 L291.6,530.6 L292.4,530.6 L293.2,530.6 L294.0,530.6 L294.8,530.6 L295.6,530.6 L296.4,530.6 L297.2,530.6 L298.0,530.6 L298.8,530.6 L299.6,530.6 L300.4,530.6 L301.2,530.6 L302.0,530.6 L302.8,530.6 L303.6,530.6 L304.4,530.6 L305.2,530.6 L306.0,530.6 L306.8,530.6 L307.6,530.6 L308.4,530.6 L309.2,530.7 L310.0,530.7 L310.8,530.7 L311.6,530.7 L312.4,530.7 L313.2,530.7 L314.0,530.7 L314.8,530.7 L315.6,530.7 L316.4,530.7 L317.2,530.7 L318.0,530.7 L318.8,530.7 L319.6,530.7 L320.4,530.7 L321.2,530.7 L322.0,530.7 L322.8,530.7 L323.6,530.7 L324.4,530.7 L325.2,530.7 L326.0,530.7 L326.8,530.7 L327.6,530.7 L328.4,530.7 L329.2,530.7 L330.0,530.8 L330.8,530.8 L331.6,530.8 L332.4,530.8 L333.2,530.8 L334.0,530.8 L334.8,530.8 L335.6,530.8 L336.4,530.8 L337.2,530.8 L338.0,530.8 L338.8,530.8 L339.6,530.8 L340.4,530.8 L341.2,530.8 L342.0,530.8 L342.8,530.8 L343.6,530.8 L344.4,530.8 L345.2,530.8"/>
<path class="cv" stroke="#ff0000" stroke-dasharray="2.14,2.14" d="M74.0,536.4 L74.8,536.5 L75.6,536.6 L76.4,536.9 L77.2,537.1 L78.0,537.5 L78.8,537.9 L79.6,538.3 L80.4,538.7 L81.2,539.1 L82.0,539.5 L82.8,539.9 L83.6,540.3 L84.4,540.6 L85.2,540.8 L86.0,540.9 L86.8,541.0 L87.6,541.1 L88.4,541.5 L89.2,542.6 L90.0,544.2 L90.8,545.3 L91.6,545.4 L92.4,545.1 L93.2,545.4 L94.0,546.2 L94.8,546.9 L95.6,546.9 L96.4,546.7 L97.2,546.7 L98.0,546.8 L98.8,547.0 L99.6,547.2 L100.4,547.5 L101.2,547.7 L102.0,547.9 L102.8,548.0 L103.6,548.0 L104.4,547.8 L105.2,547.7 L106.0,547.9 L106.8,548.5 L107.6,548.1 L108.4,547.2 L109.2,548.4 L110.0,547.6 L110.8,546.5 L111.6,546.8 L112.4,546.8 L113.2,545.8 L114.0,545.5 L114.8,545.6 L115.6,545.7 L116.4,545.3 L117.2,544.4 L118.0,544.6 L118.8,544.5 L119.6,543.9 L120.4,543.1 L121.2,542.5 L122.0,542.1 L122.8,541.7 L123.6,541.3 L124.4,540.7 L125.2,540.0 L126.0,539.4 L126.8,539.1 L127.6,539.3 L128.4,539.4 L129.2,538.8 L130.0,536.6 L130.8,536.1 L131.6,536.7 L132.4,536.1 L133.2,534.7 L134.0,533.8 L134.8,533.2 L135.6,532.7 L136.4,532.3 L137.2,531.9 L138.0,531.6 L138.8,531.2 L139.6,530.9 L140.4,530.6 L141.2,530.4 L142.0,530.1 L142.8,529.9 L143.6,529.6 L144.4,529.4 L145.2,529.2 L146.0,529.0 L146.8,528.8 L147.6,528.7 L148.4,528.5 L149.2,528.3 L150.0,528.2 L150.8,528.0 L151.6,527.8 L152.4,527.7 L153.2,527.6 L154.0,527.5 L154.8,527.4 L155.6,527.3 L156.4,527.3 L157.2,527.3 L158.0,527.4 L158.8,527.5 L159.6,527.5 L160.4,527.6 L161.2,527.5 L162.0,527.5 L162.8,527.7 L163.6,527.9 L164.4,528.0 L165.2,527.9 L166.0,527.9 L166.8,527.8 L167.6,527.7 L168.4,527.7 L169.2,527.8 L170.0,527.8 L170.8,527.9 L171.6,528.0 L172.4,528.1 L173.2,528.2 L174.0,528.3 L174.8,528.4 L175.6,528.5 L176.4,528.6 L177.2,528.7 L178.0,528.7 L178.8,528.8 L179.6,528.9 L180.4,529.0 L181.2,529.1 L182.0,529.1 L182.8,529.2 L183.6,529.2 L184.4,529.3 L185.2,529.4 L186.0,529.4 L186.8,529.5 L187.6,529.5 L188.4,529.5 L189.2,529.6 L190.0,529.6 L190.8,529.7 L191.6,529.7 L192.4,529.7 L193.2,529.8 L194.0,529.8 L194.8,529.8 L195.6,529.8 L196.4,529.9 L197.2,529.9 L198.0,529.9 L198.8,529.9 L199.6,530.0 L200.4,530.0 L201.2,530.0 L202.0,530.0 L202.8,530.0 L203.6,530.1 L204.4,530.1 L205.2,530.1 L206.0,530.1 L206.8,530.1 L207.6,530.1 L208.4,530.2 L209.2,530.2 L210.0,530.2 L210.8,530.2 L211.6,530.2 L212.4,530.2 L213.2,530.3 L214.0,530.3 L214.8,530.3 L215.6,530.3 L216.4,530.3 L217.2,530.3 L218.0,530.4 L218.8,530.4 L219.6,530.4 L220.4,530.4 L221.2,530.4 L222.0,530.4 L222.8,530.4 L223.6,530.4 L224.4,530.4 L225.2,530.5 L226.0,530.5 L226.8,530.5 L227.6,530.5 L228.4,530.5 L229.2,530.5 L230.0,530.5 L230.8,530.5 L231.6,530.5 L232.4,530.5 L233.2,530.6 L234.0,530.6 L234.8,530.6 L235.6,530.6 L236.4,530.6 L237.2,530.6 L238.0,530.6 L238.8,530.6 L239.6,530.6 L240.4,530.6 L241.2,530.6 L242.0,530.6 L242.8,530.6 L243.6,530.6 L244.4,530.7 L245.2,530.7 L246.0,530.7 L246.8,530.7 L247.6,530.7 L248.4,530.7 L249.2,530.7 L250.0,530.7 L250.8,530.7 L251.6,530.7 L252.4,530.7 L253.2,530.7 L254.0,530.7 L254.8,530.7 L255.6,530.7 L256.4,530.7 L257.2,530.7 L258.0,530.7 L258.8,530.7 L259.6,530.7 L260.4,530.7 L261.2,530.7 L262.0,530.7 L262.8,530.7 L263.6,530.7 L264.4,530.7 L265.2,530.7 L266.0,530.7 L266.8,530.7 L267.6,530.7 L268.4,530.7 L269.2,530.7 L270.0,530.7 L270.8,530.7 L271.6,530.7 L272.4,530.7 L273.2,530.7 L274.0,530.7 L274.8,530.7 L275.6,530.7 L276.4,530.7 L277.2,530.7 L278.0,530.7 L278.8,530.7 L279.6,530.7 L280.4,530.7 L281.2,530.7 L282.0,530.7 L282.8,530.7 L283.6,530.7 L284.4,530.7 L285.2,530.7 L286.0,530.7 L286.8,530.7 L287.6,530.7 L288.4,530.7 L289.2,530.7 L290.0,530.7 L290.8,530.7 L291.6,530.7 L292.4,530.7 L293.2,530.7 L294.0,530.7 L294.8,530.7 L295.6,530.7 L296.4,530.7 L297.2,530.7 L298.0,530.7 L298.8,530.7 L299.6,530.7 L300.4,530.7 L301.2,530.7 L302.0,530.7 L302.8,530.7 L303.6,530.7 L304.4,530.7 L305.2,530.7 L306.0,530.7 L306.8,530.7 L307.6,530.7 L308.4,530.7 L309.2,530.7 L310.0,530.7 L310.8,530.7 L311.6,530.7 L312.4,530.7 L313.2,530.7 L314.0,530.7 L314.8,530.7 L315.6,530.7 L316.4,530.7 L317.2,530.7 L318.0,530.7 L318.8,530.7 L319.6,530.7 L320.4,530.7 L321.2,530.7 L322.0,530.7 L322.8,530.7 L323.6,530.7 L324.4,530.6 L325.2,530.6 L326.0,530.6 L326.8,530.6 L327.6,530.6 L328.4,530.6 L329.2,530.6 L330.0,530.6 L330.8,530.6 L331.6,530.6 L332.4,530.6 L333.2,530.6 L334.0,530.6 L334.8,530.6 L335.6,530.6 L336.4,530.7 L337.2,530.7 L338.0,530.7 L338.8,530.7 L339.6,530.7 L340.4,530.7 L341.2,530.7 L342.0,530.7 L342.8,530.7 L343.6,530.7 L344.4,530.7 L345.2,530.7"/>
<path class="cv" stroke="#009944" stroke-dasharray="5.35,3.21" d="M74.0,587.8 L74.8,587.4 L75.6,586.9 L76.4,586.3 L77.2,585.6 L78.0,584.8 L78.8,583.8 L79.6,582.9 L80.4,581.8 L81.2,580.7 L82.0,579.5 L82.8,578.2 L83.6,577.0 L84.4,575.6 L85.2,574.3 L86.0,572.9 L86.8,571.6 L87.6,570.2 L88.4,568.9 L89.2,567.5 L90.0,566.2 L90.8,564.8 L91.6,563.5 L92.4,562.1 L93.2,560.8 L94.0,559.5 L94.8,558.2 L95.6,556.8 L96.4,555.5 L97.2,554.2 L98.0,552.8 L98.8,551.5 L99.6,550.2 L100.4,548.8 L101.2,547.5 L102.0,546.2 L102.8,544.8 L103.6,543.5 L104.4,542.2 L105.2,540.9 L106.0,539.6 L106.8,538.5 L107.6,537.5 L108.4,536.7 L109.2,535.8 L110.0,534.7 L110.8,533.4 L111.6,532.2 L112.4,531.1 L113.2,529.9 L114.0,528.7 L114.8,527.4 L115.6,526.3 L116.4,525.4 L117.2,524.6 L118.0,523.9 L118.8,523.2 L119.6,522.6 L120.4,522.1 L121.2,521.5 L122.0,521.1 L122.8,520.7 L123.6,520.2 L124.4,519.8 L125.2,519.5 L126.0,519.3 L126.8,519.1 L127.6,518.8 L128.4,518.6 L129.2,518.5 L130.0,518.3 L130.8,518.2 L131.6,518.0 L132.4,517.8 L133.2,517.7 L134.0,517.6 L134.8,517.6 L135.6,517.6 L136.4,517.7 L137.2,517.8 L138.0,518.0 L138.8,518.2 L139.6,518.4 L140.4,518.7 L141.2,519.0 L142.0,519.3 L142.8,519.7 L143.6,520.0 L144.4,520.4 L145.2,520.8 L146.0,521.2 L146.8,521.6 L147.6,522.0 L148.4,522.4 L149.2,522.8 L150.0,523.2 L150.8,523.6 L151.6,523.9 L152.4,524.3 L153.2,524.7 L154.0,525.0 L154.8,525.4 L155.6,525.7 L156.4,526.0 L157.2,526.4 L158.0,526.7 L158.8,527.0 L159.6,527.3 L160.4,527.7 L161.2,528.0 L162.0,528.3 L162.8,528.6 L163.6,528.9 L164.4,529.2 L165.2,529.5 L166.0,529.8 L166.8,530.0 L167.6,530.3 L168.4,530.6 L169.2,530.8 L170.0,531.1 L170.8,531.3 L171.6,531.5 L172.4,531.7 L173.2,531.9 L174.0,532.0 L174.8,532.2 L175.6,532.3 L176.4,532.5 L177.2,532.6 L178.0,532.7 L178.8,532.7 L179.6,532.8 L180.4,532.8 L181.2,532.9 L182.0,532.9 L182.8,532.9 L183.6,532.9 L184.4,532.9 L185.2,532.9 L186.0,532.9 L186.8,532.9 L187.6,532.8 L188.4,532.8 L189.2,532.7 L190.0,532.7 L190.8,532.6 L191.6,532.6 L192.4,532.5 L193.2,532.4 L194.0,532.4 L194.8,532.3 L195.6,532.2 L196.4,532.2 L197.2,532.1 L198.0,532.1 L198.8,532.0 L199.6,531.9 L200.4,531.9 L201.2,531.8 L202.0,531.8 L202.8,531.7 L203.6,531.7 L204.4,531.6 L205.2,531.6 L206.0,531.5 L206.8,531.5 L207.6,531.4 L208.4,531.4 L209.2,531.3 L210.0,531.3 L210.8,531.3 L211.6,531.2 L212.4,531.2 L213.2,531.1 L214.0,531.1 L214.8,531.1 L215.6,531.0 L216.4,531.0 L217.2,531.0 L218.0,530.9 L218.8,530.9 L219.6,530.9 L220.4,530.8 L221.2,530.8 L222.0,530.8 L222.8,530.8 L223.6,530.7 L224.4,530.7 L225.2,530.7 L226.0,530.7 L226.8,530.7 L227.6,530.6 L228.4,530.6 L229.2,530.6 L230.0,530.6 L230.8,530.6 L231.6,530.6 L232.4,530.5 L233.2,530.5 L234.0,530.5 L234.8,530.5 L235.6,530.5 L236.4,530.5 L237.2,530.5 L238.0,530.5 L238.8,530.5 L239.6,530.5 L240.4,530.4 L241.2,530.4 L242.0,530.4 L242.8,530.4 L243.6,530.4 L244.4,530.4 L245.2,530.4 L246.0,530.4 L246.8,530.4 L247.6,530.4 L248.4,530.4 L249.2,530.4 L250.0,530.4 L250.8,530.4 L251.6,530.4 L252.4,530.4 L253.2,530.4 L254.0,530.5 L254.8,530.5 L255.6,530.5 L256.4,530.5 L257.2,530.5 L258.0,530.5 L258.8,530.5 L259.6,530.5 L260.4,530.5 L261.2,530.5 L262.0,530.5 L262.8,530.5 L263.6,530.5 L264.4,530.5 L265.2,530.6 L266.0,530.6 L266.8,530.6 L267.6,530.6 L268.4,530.6 L269.2,530.6 L270.0,530.6 L270.8,530.6 L271.6,530.6 L272.4,530.6 L273.2,530.6 L274.0,530.7 L274.8,530.7 L275.6,530.7 L276.4,530.7 L277.2,530.7 L278.0,530.7 L278.8,530.7 L279.6,530.7 L280.4,530.7 L281.2,530.7 L282.0,530.7 L282.8,530.7 L283.6,530.7 L284.4,530.8 L285.2,530.8 L286.0,530.8 L286.8,530.8 L287.6,530.8 L288.4,530.8 L289.2,530.8 L290.0,530.8 L290.8,530.8 L291.6,530.8 L292.4,530.8 L293.2,530.8 L294.0,530.8 L294.8,530.8 L295.6,530.8 L296.4,530.8 L297.2,530.8 L298.0,530.8 L298.8,530.8 L299.6,530.8 L300.4,530.8 L301.2,530.8 L302.0,530.8 L302.8,530.8 L303.6,530.8 L304.4,530.8 L305.2,530.8 L306.0,530.8 L306.8,530.8 L307.6,530.8 L308.4,530.8 L309.2,530.8 L310.0,530.8 L310.8,530.8 L311.6,530.8 L312.4,530.8 L313.2,530.7 L314.0,530.7 L314.8,530.7 L315.6,530.7 L316.4,530.7 L317.2,530.7 L318.0,530.7 L318.8,530.7 L319.6,530.7 L320.4,530.7 L321.2,530.7 L322.0,530.7 L322.8,530.7 L323.6,530.7 L324.4,530.7 L325.2,530.7 L326.0,530.7 L326.8,530.7 L327.6,530.7 L328.4,530.7 L329.2,530.7 L330.0,530.7 L330.8,530.7 L331.6,530.7 L332.4,530.7 L333.2,530.7 L334.0,530.7 L334.8,530.7 L335.6,530.6 L336.4,530.6 L337.2,530.6 L338.0,530.6 L338.8,530.6 L339.6,530.6 L340.4,530.6 L341.2,530.6 L342.0,530.6 L342.8,530.6 L343.6,530.6 L344.4,530.6 L345.2,530.6"/>
<path class="cv" stroke="#0000ff" stroke-dasharray="2.14,2.14,6.42,2.14" d="M74.0,527.5 L74.8,527.4 L75.6,527.3 L76.4,527.2 L77.2,527.2 L78.0,527.2 L78.8,527.2 L79.6,527.2 L80.4,527.2 L81.2,527.2 L82.0,527.3 L82.8,527.4 L83.6,527.4 L84.4,527.5 L85.2,527.6 L86.0,527.6 L86.8,527.7 L87.6,527.7 L88.4,527.8 L89.2,527.8 L90.0,527.8 L90.8,527.8 L91.6,527.8 L92.4,527.9 L93.2,527.9 L94.0,528.1 L94.8,528.3 L95.6,528.7 L96.4,529.3 L97.2,530.1 L98.0,530.8 L98.8,531.4 L99.6,531.8 L100.4,531.7 L101.2,531.3 L102.0,531.3 L102.8,531.9 L103.6,532.8 L104.4,533.4 L105.2,533.4 L106.0,533.3 L106.8,533.3 L107.6,533.9 L108.4,535.0 L109.2,535.7 L110.0,536.1 L110.8,536.3 L111.6,536.3 L112.4,536.2 L113.2,536.3 L114.0,536.4 L114.8,536.7 L115.6,536.9 L116.4,537.1 L117.2,537.3 L118.0,537.3 L118.8,537.3 L119.6,537.3 L120.4,537.2 L121.2,537.1 L122.0,537.0 L122.8,536.9 L123.6,536.7 L124.4,536.6 L125.2,536.4 L126.0,536.1 L126.8,535.7 L127.6,535.2 L128.4,535.0 L129.2,534.8 L130.0,534.5 L130.8,534.3 L131.6,534.0 L132.4,533.6 L133.2,533.0 L134.0,532.5 L134.8,532.1 L135.6,531.6 L136.4,531.2 L137.2,530.8 L138.0,530.4 L138.8,530.1 L139.6,529.8 L140.4,529.5 L141.2,529.2 L142.0,529.0 L142.8,528.7 L143.6,528.5 L144.4,528.3 L145.2,528.1 L146.0,527.9 L146.8,527.7 L147.6,527.5 L148.4,527.3 L149.2,527.2 L150.0,527.0 L150.8,526.8 L151.6,526.7 L152.4,526.5 L153.2,526.3 L154.0,526.2 L154.8,526.0 L155.6,525.8 L156.4,525.6 L157.2,525.5 L158.0,525.4 L158.8,525.5 L159.6,525.5 L160.4,525.6 L161.2,525.8 L162.0,525.9 L162.8,526.1 L163.6,526.3 L164.4,526.5 L165.2,526.8 L166.0,527.0 L166.8,527.3 L167.6,527.5 L168.4,527.8 L169.2,528.1 L170.0,528.4 L170.8,528.6 L171.6,528.9 L172.4,529.2 L173.2,529.5 L174.0,529.7 L174.8,530.0 L175.6,530.3 L176.4,530.5 L177.2,530.7 L178.0,530.9 L178.8,531.1 L179.6,531.3 L180.4,531.5 L181.2,531.6 L182.0,531.8 L182.8,531.9 L183.6,532.0 L184.4,532.1 L185.2,532.2 L186.0,532.2 L186.8,532.3 L187.6,532.3 L188.4,532.3 L189.2,532.4 L190.0,532.4 L190.8,532.4 L191.6,532.4 L192.4,532.4 L193.2,532.3 L194.0,532.3 L194.8,532.3 L195.6,532.2 L196.4,532.2 L197.2,532.1 L198.0,532.1 L198.8,532.1 L199.6,532.0 L200.4,531.9 L201.2,531.9 L202.0,531.8 L202.8,531.8 L203.6,531.7 L204.4,531.7 L205.2,531.6 L206.0,531.5 L206.8,531.5 L207.6,531.4 L208.4,531.3 L209.2,531.3 L210.0,531.2 L210.8,531.1 L211.6,531.1 L212.4,531.0 L213.2,531.0 L214.0,530.9 L214.8,530.9 L215.6,530.8 L216.4,530.8 L217.2,530.7 L218.0,530.7 L218.8,530.6 L219.6,530.6 L220.4,530.5 L221.2,530.5 L222.0,530.5 L222.8,530.4 L223.6,530.4 L224.4,530.4 L225.2,530.4 L226.0,530.3 L226.8,530.3 L227.6,530.3 L228.4,530.3 L229.2,530.3 L230.0,530.3 L230.8,530.3 L231.6,530.3 L232.4,530.3 L233.2,530.3 L234.0,530.2 L234.8,530.2 L235.6,530.2 L236.4,530.3 L237.2,530.3 L238.0,530.3 L238.8,530.3 L239.6,530.3 L240.4,530.3 L241.2,530.3 L242.0,530.3 L242.8,530.3 L243.6,530.3 L244.4,530.3 L245.2,530.3 L246.0,530.4 L246.8,530.4 L247.6,530.4 L248.4,530.4 L249.2,530.4 L250.0,530.4 L250.8,530.5 L251.6,530.5 L252.4,530.5 L253.2,530.5 L254.0,530.5 L254.8,530.5 L255.6,530.6 L256.4,530.6 L257.2,530.6 L258.0,530.6 L258.8,530.6 L259.6,530.6 L260.4,530.7 L261.2,530.7 L262.0,530.7 L262.8,530.7 L263.6,530.7 L264.4,530.7 L265.2,530.7 L266.0,530.8 L266.8,530.8 L267.6,530.8 L268.4,530.8 L269.2,530.8 L270.0,530.8 L270.8,530.8 L271.6,530.8 L272.4,530.8 L273.2,530.8 L274.0,530.8 L274.8,530.8 L275.6,530.8 L276.4,530.8 L277.2,530.8 L278.0,530.8 L278.8,530.8 L279.6,530.8 L280.4,530.8 L281.2,530.8 L282.0,530.8 L282.8,530.8 L283.6,530.8 L284.4,530.8 L285.2,530.8 L286.0,530.8 L286.8,530.8 L287.6,530.8 L288.4,530.8 L289.2,530.8 L290.0,530.7 L290.8,530.7 L291.6,530.7 L292.4,530.7 L293.2,530.7 L294.0,530.7 L294.8,530.7 L295.6,530.7 L296.4,530.7 L297.2,530.7 L298.0,530.7 L298.8,530.7 L299.6,530.7 L300.4,530.7 L301.2,530.7 L302.0,530.7 L302.8,530.7 L303.6,530.6 L304.4,530.6 L305.2,530.6 L306.0,530.6 L306.8,530.6 L307.6,530.6 L308.4,530.6 L309.2,530.6 L310.0,530.6 L310.8,530.6 L311.6,530.6 L312.4,530.6 L313.2,530.6 L314.0,530.6 L314.8,530.6 L315.6,530.6 L316.4,530.6 L317.2,530.6 L318.0,530.6 L318.8,530.7 L319.6,530.7 L320.4,530.7 L321.2,530.7 L322.0,530.7 L322.8,530.7 L323.6,530.7 L324.4,530.7 L325.2,530.7 L326.0,530.7 L326.8,530.7 L327.6,530.7 L328.4,530.7 L329.2,530.7 L330.0,530.7 L330.8,530.7 L331.6,530.7 L332.4,530.7 L333.2,530.7 L334.0,530.7 L334.8,530.7 L335.6,530.7 L336.4,530.7 L337.2,530.7 L338.0,530.7 L338.8,530.7 L339.6,530.7 L340.4,530.7 L341.2,530.7 L342.0,530.7 L342.8,530.7 L343.6,530.7 L344.4,530.7 L345.2,530.7"/>
<path class="cv" stroke="#ff00ff" stroke-dasharray="2.14,2.14,2.14,2.14,6.42,2.14" d="M74.0,471.5 L74.8,471.8 L75.6,472.3 L76.4,472.9 L77.2,473.6 L78.0,474.5 L78.8,475.4 L79.6,476.5 L80.4,477.7 L81.2,478.9 L82.0,480.3 L82.8,481.7 L83.6,483.2 L84.4,484.7 L85.2,486.3 L86.0,487.9 L86.8,489.6 L87.6,491.3 L88.4,493.0 L89.2,494.7 L90.0,496.4 L90.8,498.2 L91.6,500.1 L92.4,502.0 L93.2,503.9 L94.0,505.9 L94.8,508.1 L95.6,510.2 L96.4,512.5 L97.2,514.9 L98.0,517.4 L98.8,519.9 L99.6,522.3 L100.4,524.0 L101.2,523.7 L102.0,523.1 L102.8,526.6 L103.6,526.7 L104.4,527.4 L105.2,529.9 L106.0,530.1 L106.8,530.9 L107.6,532.7 L108.4,534.3 L109.2,534.8 L110.0,534.4 L110.8,535.7 L111.6,536.3 L112.4,536.8 L113.2,537.3 L114.0,537.7 L114.8,538.0 L115.6,538.3 L116.4,538.5 L117.2,538.7 L118.0,538.6 L118.8,538.2 L119.6,538.1 L120.4,538.0 L121.2,537.9 L122.0,537.6 L122.8,537.2 L123.6,536.8 L124.4,536.5 L125.2,536.4 L126.0,535.8 L126.8,535.2 L127.6,535.4 L128.4,536.0 L129.2,535.7 L130.0,533.4 L130.8,532.5 L131.6,533.0 L132.4,533.0 L133.2,532.4 L134.0,531.9 L134.8,531.4 L135.6,530.9 L136.4,530.5 L137.2,530.0 L138.0,529.7 L138.8,529.3 L139.6,529.0 L140.4,528.7 L141.2,528.5 L142.0,528.2 L142.8,528.0 L143.6,527.7 L144.4,527.5 L145.2,527.3 L146.0,527.1 L146.8,526.9 L147.6,526.7 L148.4,526.5 L149.2,526.3 L150.0,526.1 L150.8,525.9 L151.6,525.7 L152.4,525.5 L153.2,525.4 L154.0,525.2 L154.8,525.1 L155.6,524.9 L156.4,524.8 L157.2,524.7 L158.0,524.6 L158.8,524.5 L159.6,524.5 L160.4,524.4 L161.2,524.4 L162.0,524.3 L162.8,524.3 L163.6,524.3 L164.4,524.2 L165.2,524.2 L166.0,524.1 L166.8,524.1 L167.6,524.1 L168.4,524.0 L169.2,524.0 L170.0,524.0 L170.8,524.0 L171.6,524.0 L172.4,524.0 L173.2,524.0 L174.0,524.0 L174.8,524.1 L175.6,524.1 L176.4,524.2 L177.2,524.3 L178.0,524.3 L178.8,524.4 L179.6,524.5 L180.4,524.6 L181.2,524.7 L182.0,524.8 L182.8,524.9 L183.6,525.0 L184.4,525.2 L185.2,525.3 L186.0,525.4 L186.8,525.6 L187.6,525.7 L188.4,525.9 L189.2,526.1 L190.0,526.2 L190.8,526.4 L191.6,526.6 L192.4,526.8 L193.2,526.9 L194.0,527.1 L194.8,527.3 L195.6,527.5 L196.4,527.7 L197.2,527.9 L198.0,528.1 L198.8,528.3 L199.6,528.6 L200.4,528.8 L201.2,529.0 L202.0,529.2 L202.8,529.4 L203.6,529.6 L204.4,529.9 L205.2,530.1 L206.0,530.3 L206.8,530.5 L207.6,530.7 L208.4,530.9 L209.2,531.1 L210.0,531.3 L210.8,531.5 L211.6,531.6 L212.4,531.8 L213.2,531.9 L214.0,532.0 L214.8,532.1 L215.6,532.2 L216.4,532.3 L217.2,532.3 L218.0,532.4 L218.8,532.4 L219.6,532.4 L220.4,532.5 L221.2,532.5 L222.0,532.5 L222.8,532.5 L223.6,532.5 L224.4,532.4 L225.2,532.4 L226.0,532.4 L226.8,532.4 L227.6,532.4 L228.4,532.3 L229.2,532.3 L230.0,532.3 L230.8,532.2 L231.6,532.2 L232.4,532.2 L233.2,532.1 L234.0,532.1 L234.8,532.1 L235.6,532.0 L236.4,532.0 L237.2,532.0 L238.0,531.9 L238.8,531.9 L239.6,531.9 L240.4,531.8 L241.2,531.8 L242.0,531.8 L242.8,531.7 L243.6,531.7 L244.4,531.6 L245.2,531.6 L246.0,531.6 L246.8,531.5 L247.6,531.5 L248.4,531.4 L249.2,531.4 L250.0,531.4 L250.8,531.3 L251.6,531.3 L252.4,531.2 L253.2,531.2 L254.0,531.2 L254.8,531.1 L255.6,531.1 L256.4,531.1 L257.2,531.0 L258.0,531.0 L258.8,530.9 L259.6,530.9 L260.4,530.9 L261.2,530.8 L262.0,530.8 L262.8,530.8 L263.6,530.7 L264.4,530.7 L265.2,530.7 L266.0,530.6 L266.8,530.6 L267.6,530.6 L268.4,530.5 L269.2,530.5 L270.0,530.5 L270.8,530.5 L271.6,530.4 L272.4,530.4 L273.2,530.4 L274.0,530.4 L274.8,530.3 L275.6,530.3 L276.4,530.3 L277.2,530.3 L278.0,530.2 L278.8,530.2 L279.6,530.2 L280.4,530.2 L281.2,530.2 L282.0,530.2 L282.8,530.1 L283.6,530.1 L284.4,530.1 L285.2,530.1 L286.0,530.1 L286.8,530.1 L287.6,530.1 L288.4,530.1 L289.2,530.1 L290.0,530.0 L290.8,530.0 L291.6,530.0 L292.4,530.0 L293.2,530.0 L294.0,530.0 L294.8,530.0 L295.6,530.0 L296.4,530.0 L297.2,530.0 L298.0,530.0 L298.8,530.0 L299.6,530.0 L300.4,530.0 L301.2,530.0 L302.0,530.0 L302.8,530.0 L303.6,530.0 L304.4,530.0 L305.2,530.0 L306.0,530.0 L306.8,530.0 L307.6,530.0 L308.4,530.1 L309.2,530.1 L310.0,530.1 L310.8,530.1 L311.6,530.1 L312.4,530.1 L313.2,530.1 L314.0,530.1 L314.8,530.1 L315.6,530.1 L316.4,530.1 L317.2,530.1 L318.0,530.1 L318.8,530.2 L319.6,530.2 L320.4,530.2 L321.2,530.2 L322.0,530.2 L322.8,530.2 L323.6,530.2 L324.4,530.2 L325.2,530.2 L326.0,530.3 L326.8,530.3 L327.6,530.3 L328.4,530.3 L329.2,530.3 L330.0,530.3 L330.8,530.3 L331.6,530.3 L332.4,530.4 L333.2,530.4 L334.0,530.4 L334.8,530.4 L335.6,530.4 L336.4,530.4 L337.2,530.4 L338.0,530.4 L338.8,530.5 L339.6,530.5 L340.4,530.5 L341.2,530.5 L342.0,530.5 L342.8,530.5 L343.6,530.5 L344.4,530.5 L345.2,530.5"/>
<path class="cv" stroke="#00c8ff" stroke-dasharray="9.63,3.21" d="M74.0,530.7 L74.8,530.7 L75.6,530.7 L76.4,530.7 L77.2,530.7 L78.0,530.7 L78.8,530.7 L79.6,530.7 L80.4,530.7 L81.2,530.7 L82.0,530.7 L82.8,530.7 L83.6,530.7 L84.4,530.7 L85.2,530.7 L86.0,530.7 L86.8,530.7 L87.6,530.7 L88.4,530.7 L89.2,530.7 L90.0,530.7 L90.8,530.7 L91.6,530.7 L92.4,530.7 L93.2,530.7 L94.0,530.7 L94.8,530.7 L95.6,530.7 L96.4,530.7 L97.2,530.7 L98.0,530.7 L98.8,530.7 L99.6,530.7 L100.4,530.7 L101.2,530.7 L102.0,530.7 L102.8,530.7 L103.6,530.7 L104.4,530.7 L105.2,530.7 L106.0,530.7 L106.8,530.7 L107.6,530.7 L108.4,530.7 L109.2,530.8 L110.0,530.8 L110.8,530.8 L111.6,530.8 L112.4,530.8 L113.2,530.8 L114.0,530.8 L114.8,530.8 L115.6,530.8 L116.4,530.8 L117.2,530.8 L118.0,530.8 L118.8,530.8 L119.6,530.8 L120.4,530.8 L121.2,530.8 L122.0,530.8 L122.8,530.8 L123.6,530.8 L124.4,530.8 L125.2,530.8 L126.0,530.8 L126.8,530.8 L127.6,530.8 L128.4,530.8 L129.2,530.8 L130.0,530.8 L130.8,530.8 L131.6,530.8 L132.4,530.8 L133.2,530.8 L134.0,530.8 L134.8,530.8 L135.6,530.8 L136.4,530.8 L137.2,530.8 L138.0,530.8 L138.8,530.8 L139.6,530.8 L140.4,530.8 L141.2,530.8 L142.0,530.8 L142.8,530.8 L143.6,530.8 L144.4,530.8 L145.2,530.8 L146.0,530.8 L146.8,530.8 L147.6,530.8 L148.4,530.8 L149.2,530.8 L150.0,530.8 L150.8,530.8 L151.6,530.8 L152.4,530.8 L153.2,530.8 L154.0,530.8 L154.8,530.8 L155.6,530.8 L156.4,530.8 L157.2,530.8 L158.0,530.8 L158.8,530.8 L159.6,530.8 L160.4,530.8 L161.2,530.8 L162.0,530.8 L162.8,530.8 L163.6,530.8 L164.4,530.8 L165.2,530.8 L166.0,530.8 L166.8,530.8 L167.6,530.8 L168.4,530.8 L169.2,530.8 L170.0,530.8 L170.8,530.8 L171.6,530.8 L172.4,530.8 L173.2,530.8 L174.0,530.8 L174.8,530.8 L175.6,530.8 L176.4,530.8 L177.2,530.8 L178.0,530.8 L178.8,530.8 L179.6,530.8 L180.4,530.8 L181.2,530.8 L182.0,530.7 L182.8,530.7 L183.6,530.7 L184.4,530.7 L185.2,530.7 L186.0,530.7 L186.8,530.7 L187.6,530.7 L188.4,530.7 L189.2,530.7 L190.0,530.7 L190.8,530.7 L191.6,530.7 L192.4,530.7 L193.2,530.7 L194.0,530.7 L194.8,530.7 L195.6,530.7 L196.4,530.7 L197.2,530.7 L198.0,530.7 L198.8,530.7 L199.6,530.7 L200.4,530.7 L201.2,530.7 L202.0,530.7 L202.8,530.7 L203.6,530.7 L204.4,530.7 L205.2,530.7 L206.0,530.7 L206.8,530.7 L207.6,530.7 L208.4,530.7 L209.2,530.7 L210.0,530.7 L210.8,530.7 L211.6,530.7 L212.4,530.7 L213.2,530.7 L214.0,530.7 L214.8,530.7 L215.6,530.7 L216.4,530.7 L217.2,530.7 L218.0,530.7 L218.8,530.7 L219.6,530.7 L220.4,530.7 L221.2,530.7 L222.0,530.7 L222.8,530.7 L223.6,530.7 L224.4,530.7 L225.2,530.7 L226.0,530.7 L226.8,530.7 L227.6,530.7 L228.4,530.7 L229.2,530.7 L230.0,530.7 L230.8,530.7 L231.6,530.7 L232.4,530.7 L233.2,530.7 L234.0,530.7 L234.8,530.7 L235.6,530.7 L236.4,530.7 L237.2,530.7 L238.0,530.7 L238.8,530.7 L239.6,530.7 L240.4,530.7 L241.2,530.7 L242.0,530.7 L242.8,530.7 L243.6,530.7 L244.4,530.7 L245.2,530.7 L246.0,530.7 L246.8,530.7 L247.6,530.7 L248.4,530.7 L249.2,530.7 L250.0,530.7 L250.8,530.7 L251.6,530.7 L252.4,530.7 L253.2,530.7 L254.0,530.7 L254.8,530.7 L255.6,530.7 L256.4,530.7 L257.2,530.7 L258.0,530.7 L258.8,530.7 L259.6,530.7 L260.4,530.7 L261.2,530.7 L262.0,530.7 L262.8,530.7 L263.6,530.7 L264.4,530.7 L265.2,530.7 L266.0,530.7 L266.8,530.7 L267.6,530.7 L268.4,530.7 L269.2,530.7 L270.0,530.7 L270.8,530.7 L271.6,530.7 L272.4,530.7 L273.2,530.7 L274.0,530.7 L274.8,530.7 L275.6,530.7 L276.4,530.7 L277.2,530.7 L278.0,530.7 L278.8,530.7 L279.6,530.7 L280.4,530.7 L281.2,530.7 L282.0,530.7 L282.8,530.7 L283.6,530.7 L284.4,530.7 L285.2,530.7 L286.0,530.7 L286.8,530.7 L287.6,530.7 L288.4,530.7 L289.2,530.7 L290.0,530.7 L290.8,530.7 L291.6,530.7 L292.4,530.7 L293.2,530.7 L294.0,530.7 L294.8,530.7 L295.6,530.7 L296.4,530.7 L297.2,530.7 L298.0,530.7 L298.8,530.7 L299.6,530.7 L300.4,530.7 L301.2,530.7 L302.0,530.7 L302.8,530.7 L303.6,530.7 L304.4,530.7 L305.2,530.7 L306.0,530.7 L306.8,530.7 L307.6,530.7 L308.4,530.7 L309.2,530.7 L310.0,530.7 L310.8,530.7 L311.6,530.7 L312.4,530.7 L313.2,530.7 L314.0,530.7 L314.8,530.7 L315.6,530.7 L316.4,530.7 L317.2,530.7 L318.0,530.7 L318.8,530.7 L319.6,530.7 L320.4,530.7 L321.2,530.7 L322.0,530.7 L322.8,530.7 L323.6,530.7 L324.4,530.7 L325.2,530.7 L326.0,530.7 L326.8,530.7 L327.6,530.7 L328.4,530.7 L329.2,530.7 L330.0,530.7 L330.8,530.7 L331.6,530.7 L332.4,530.7 L333.2,530.7 L334.0,530.7 L334.8,530.7 L335.6,530.7 L336.4,530.7 L337.2,530.7 L338.0,530.7 L338.8,530.7 L339.6,530.7 L340.4,530.7 L341.2,530.7 L342.0,530.7 L342.8,530.7 L343.6,530.7 L344.4,530.7 L345.2,530.7"/>
<path class="cv" stroke="#ff9944" stroke-dasharray="2.14,2.14,10.70,2.14" d="M74.0,488.7 L74.8,489.1 L75.6,489.6 L76.4,490.2 L77.2,490.9 L78.0,491.7 L78.8,492.7 L79.6,493.7 L80.4,494.8 L81.2,496.0 L82.0,497.2 L82.8,498.5 L83.6,499.8 L84.4,501.2 L85.2,502.7 L86.0,504.2 L86.8,505.6 L87.6,507.2 L88.4,508.7 L89.2,510.2 L90.0,511.7 L90.8,513.2 L91.6,514.7 L92.4,516.1 L93.2,517.6 L94.0,518.9 L94.8,520.3 L95.6,521.6 L96.4,522.8 L97.2,523.9 L98.0,525.0 L98.8,525.9 L99.6,526.8 L100.4,527.3 L101.2,528.5 L102.0,529.8 L102.8,530.0 L103.6,530.7 L104.4,532.0 L105.2,532.3 L106.0,532.3 L106.8,532.8 L107.6,533.5 L108.4,533.9 L109.2,534.1 L110.0,534.3 L110.8,534.5 L111.6,534.7 L112.4,534.9 L113.2,534.9 L114.0,534.9 L114.8,534.9 L115.6,534.7 L116.4,534.5 L117.2,534.3 L118.0,534.0 L118.8,533.7 L119.6,533.3 L120.4,532.8 L121.2,532.3 L122.0,531.8 L122.8,531.4 L123.6,530.9 L124.4,530.5 L125.2,530.0 L126.0,529.6 L126.8,529.1 L127.6,528.7 L128.4,528.2 L129.2,527.7 L130.0,527.2 L130.8,526.7 L131.6,526.1 L132.4,525.6 L133.2,525.1 L134.0,524.7 L134.8,524.2 L135.6,523.8 L136.4,523.4 L137.2,523.0 L138.0,522.7 L138.8,522.4 L139.6,522.1 L140.4,521.9 L141.2,521.6 L142.0,521.4 L142.8,521.3 L143.6,521.1 L144.4,521.0 L145.2,520.9 L146.0,520.9 L146.8,520.9 L147.6,520.9 L148.4,520.9 L149.2,520.9 L150.0,521.0 L150.8,521.1 L151.6,521.2 L152.4,521.3 L153.2,521.5 L154.0,521.6 L154.8,521.8 L155.6,522.0 L156.4,522.2 L157.2,522.5 L158.0,522.7 L158.8,523.0 L159.6,523.2 L160.4,523.5 L161.2,523.8 L162.0,524.0 L162.8,524.3 L163.6,524.6 L164.4,524.8 L165.2,525.1 L166.0,525.3 L166.8,525.6 L167.6,525.8 L168.4,526.0 L169.2,526.3 L170.0,526.5 L170.8,526.7 L171.6,526.9 L172.4,527.1 L173.2,527.3 L174.0,527.5 L174.8,527.7 L175.6,527.9 L176.4,528.1 L177.2,528.2 L178.0,528.4 L178.8,528.6 L179.6,528.7 L180.4,528.8 L181.2,528.9 L182.0,529.0 L182.8,529.1 L183.6,529.2 L184.4,529.3 L185.2,529.4 L186.0,529.4 L186.8,529.5 L187.6,529.5 L188.4,529.6 L189.2,529.6 L190.0,529.6 L190.8,529.6 L191.6,529.6 L192.4,529.6 L193.2,529.6 L194.0,529.6 L194.8,529.6 L195.6,529.5 L196.4,529.5 L197.2,529.5 L198.0,529.4 L198.8,529.4 L199.6,529.4 L200.4,529.3 L201.2,529.3 L202.0,529.2 L202.8,529.2 L203.6,529.1 L204.4,529.0 L205.2,529.0 L206.0,528.9 L206.8,528.9 L207.6,528.8 L208.4,528.8 L209.2,528.7 L210.0,528.7 L210.8,528.6 L211.6,528.6 L212.4,528.6 L213.2,528.5 L214.0,528.5 L214.8,528.5 L215.6,528.5 L216.4,528.4 L217.2,528.4 L218.0,528.4 L218.8,528.4 L219.6,528.4 L220.4,528.4 L221.2,528.4 L222.0,528.5 L222.8,528.5 L223.6,528.5 L224.4,528.5 L225.2,528.6 L226.0,528.6 L226.8,528.6 L227.6,528.7 L228.4,528.7 L229.2,528.7 L230.0,528.8 L230.8,528.8 L231.6,528.9 L232.4,528.9 L233.2,529.0 L234.0,529.1 L234.8,529.1 L235.6,529.2 L236.4,529.2 L237.2,529.3 L238.0,529.4 L238.8,529.4 L239.6,529.5 L240.4,529.6 L241.2,529.6 L242.0,529.7 L242.8,529.8 L243.6,529.8 L244.4,529.9 L245.2,530.0 L246.0,530.1 L246.8,530.1 L247.6,530.2 L248.4,530.3 L249.2,530.3 L250.0,530.4 L250.8,530.5 L251.6,530.5 L252.4,530.6 L253.2,530.6 L254.0,530.7 L254.8,530.8 L255.6,530.8 L256.4,530.9 L257.2,530.9 L258.0,531.0 L258.8,531.0 L259.6,531.1 L260.4,531.1 L261.2,531.1 L262.0,531.2 L262.8,531.2 L263.6,531.2 L264.4,531.3 L265.2,531.3 L266.0,531.3 L266.8,531.3 L267.6,531.4 L268.4,531.4 L269.2,531.4 L270.0,531.4 L270.8,531.4 L271.6,531.4 L272.4,531.4 L273.2,531.4 L274.0,531.4 L274.8,531.4 L275.6,531.4 L276.4,531.4 L277.2,531.4 L278.0,531.4 L278.8,531.4 L279.6,531.4 L280.4,531.4 L281.2,531.4 L282.0,531.4 L282.8,531.4 L283.6,531.4 L284.4,531.3 L285.2,531.3 L286.0,531.3 L286.8,531.3 L287.6,531.3 L288.4,531.2 L289.2,531.2 L290.0,531.2 L290.8,531.2 L291.6,531.2 L292.4,531.1 L293.2,531.1 L294.0,531.1 L294.8,531.1 L295.6,531.1 L296.4,531.0 L297.2,531.0 L298.0,531.0 L298.8,531.0 L299.6,530.9 L300.4,530.9 L301.2,530.9 L302.0,530.9 L302.8,530.9 L303.6,530.8 L304.4,530.8 L305.2,530.8 L306.0,530.8 L306.8,530.8 L307.6,530.7 L308.4,530.7 L309.2,530.7 L310.0,530.7 L310.8,530.7 L311.6,530.7 L312.4,530.6 L313.2,530.6 L314.0,530.6 L314.8,530.6 L315.6,530.6 L316.4,530.6 L317.2,530.6 L318.0,530.6 L318.8,530.5 L319.6,530.5 L320.4,530.5 L321.2,530.5 L322.0,530.5 L322.8,530.5 L323.6,530.5 L324.4,530.5 L325.2,530.5 L326.0,530.5 L326.8,530.5 L327.6,530.5 L328.4,530.5 L329.2,530.5 L330.0,530.5 L330.8,530.4 L331.6,530.4 L332.4,530.4 L333.2,530.4 L334.0,530.4 L334.8,530.4 L335.6,530.4 L336.4,530.4 L337.2,530.4 L338.0,530.4 L338.8,530.4 L339.6,530.4 L340.4,530.5 L341.2,530.5 L342.0,530.5 L342.8,530.5 L343.6,530.5 L344.4,530.5 L345.2,530.5"/>
<line x1="71.4" y1="530.7" x2="345.4" y2="530.7" stroke="#000" stroke-width="1.1"/>
</g>
<path class="fr" stroke-width="1.17" d="M98.80,218.30 v-4.00 M98.80,5.30 v4.00 M126.20,218.30 v-7.70 M126.20,5.30 v7.70 M153.60,218.30 v-4.00 M153.60,5.30 v4.00 M181.00,218.30 v-7.70 M181.00,5.30 v7.70 M208.40,218.30 v-4.00 M208.40,5.30 v4.00 M235.80,218.30 v-7.70 M235.80,5.30 v7.70 M263.20,218.30 v-4.00 M263.20,5.30 v4.00 M290.60,218.30 v-7.70 M290.60,5.30 v7.70 M318.00,218.30 v-4.00 M318.00,5.30 v4.00 M71.40,147.30 h7.70 M345.40,147.30 h-7.70 M71.40,76.30 h7.70 M345.40,76.30 h-7.70 M71.40,182.80 h4.00 M345.40,182.80 h-4.00 M71.40,111.80 h4.00 M345.40,111.80 h-4.00 M71.40,40.80 h4.00 M345.40,40.80 h-4.00"/>
<rect class="fr" x="71.40" y="5.30" width="274.00" height="213.00"/>
<path class="fr" stroke-width="1.17" d="M98.80,446.65 v-4.00 M98.80,233.85 v4.00 M126.20,446.65 v-7.70 M126.20,233.85 v7.70 M153.60,446.65 v-4.00 M153.60,233.85 v4.00 M181.00,446.65 v-7.70 M181.00,233.85 v7.70 M208.40,446.65 v-4.00 M208.40,233.85 v4.00 M235.80,446.65 v-7.70 M235.80,233.85 v7.70 M263.20,446.65 v-4.00 M263.20,233.85 v4.00 M290.60,446.65 v-7.70 M290.60,233.85 v7.70 M318.00,446.65 v-4.00 M318.00,233.85 v4.00 M71.40,375.72 h7.70 M345.40,375.72 h-7.70 M71.40,304.78 h7.70 M345.40,304.78 h-7.70 M71.40,411.18 h4.00 M345.40,411.18 h-4.00 M71.40,340.25 h4.00 M345.40,340.25 h-4.00 M71.40,269.32 h4.00 M345.40,269.32 h-4.00"/>
<rect class="fr" x="71.40" y="233.85" width="274.00" height="212.80"/>
<path class="fr" stroke-width="1.17" d="M98.80,599.20 v-4.00 M98.80,462.15 v4.00 M126.20,599.20 v-7.70 M126.20,462.15 v7.70 M153.60,599.20 v-4.00 M153.60,462.15 v4.00 M181.00,599.20 v-7.70 M181.00,462.15 v7.70 M208.40,599.20 v-4.00 M208.40,462.15 v4.00 M235.80,599.20 v-7.70 M235.80,462.15 v7.70 M263.20,599.20 v-4.00 M263.20,462.15 v4.00 M290.60,599.20 v-7.70 M290.60,462.15 v7.70 M318.00,599.20 v-4.00 M318.00,462.15 v4.00 M71.40,564.94 h7.70 M345.40,564.94 h-7.70 M71.40,530.67 h7.70 M345.40,530.67 h-7.70 M71.40,496.41 h7.70 M345.40,496.41 h-7.70 M71.40,582.07 h4.00 M345.40,582.07 h-4.00 M71.40,547.81 h4.00 M345.40,547.81 h-4.00 M71.40,513.54 h4.00 M345.40,513.54 h-4.00 M71.40,479.28 h4.00 M345.40,479.28 h-4.00"/>
<rect class="fr" x="71.40" y="462.15" width="274.00" height="137.05"/>
<text class="tk" x="60.2" y="224.4" text-anchor="end">0.00</text>
<text class="tk" x="60.2" y="153.4" text-anchor="end">0.04</text>
<text class="tk" x="60.2" y="82.4" text-anchor="end">0.08</text>
<text class="tk" x="60.2" y="11.4" text-anchor="end">0.12</text>
<text class="tk" x="60.2" y="452.7" text-anchor="end">0.00</text>
<text class="tk" x="60.2" y="381.8" text-anchor="end">0.04</text>
<text class="tk" x="60.2" y="310.9" text-anchor="end">0.08</text>
<text class="tk" x="60.2" y="239.9" text-anchor="end">0.12</text>
<text class="tk" x="60.2" y="605.3" text-anchor="end">-0.02</text>
<text class="tk" x="60.2" y="571.0" text-anchor="end">-0.01</text>
<text class="tk" x="60.2" y="536.8" text-anchor="end">0.00</text>
<text class="tk" x="60.2" y="502.5" text-anchor="end">0.01</text>
<text class="tk" x="60.2" y="468.2" text-anchor="end">0.02</text>
<text class="tk" x="71.7" y="620.2" text-anchor="middle">0</text>
<text class="tk" x="126.5" y="620.2" text-anchor="middle">2</text>
<text class="tk" x="181.3" y="620.2" text-anchor="middle">4</text>
<text class="tk" x="236.1" y="620.2" text-anchor="middle">6</text>
<text class="tk" x="290.9" y="620.2" text-anchor="middle">8</text>
<text class="tk" x="345.7" y="620.2" text-anchor="middle">10</text>
<text class="cm" x="77.0" y="209.9" textLength="16.6" lengthAdjust="spacingAndGlyphs"><tspan font-size="17">(</tspan><tspan font-size="14.2">a</tspan><tspan font-size="17">)</tspan></text>
<text class="cm" x="77.0" y="438.5" textLength="17.0" lengthAdjust="spacingAndGlyphs"><tspan font-size="17">(</tspan><tspan font-size="14.2">b</tspan><tspan font-size="17">)</tspan></text>
<text class="cm" x="323.2" y="589.8" textLength="16.2" lengthAdjust="spacingAndGlyphs"><tspan font-size="17">(</tspan><tspan font-size="14.2">c</tspan><tspan font-size="17">)</tspan></text>
<text class="cm" y="643.6"><tspan class="it" font-size="18.5" x="185.8">r</tspan><tspan font-size="20" x="200.8" dy="-0.3">[</tspan><tspan font-size="17.5" x="204.3" dy="0.3" textLength="20.6" lengthAdjust="spacingAndGlyphs">fm</tspan><tspan font-size="20" x="225.2" dy="-0.3">]</tspan></text>
<g transform="translate(17.8,153.6) rotate(-90)">
<text class="cm" font-size="17.5"><tspan class="it" font-size="18.5" x="0" y="0">ρ</tspan><tspan font-size="12.3" x="11.4" y="4.3">n</tspan><tspan font-size="12.3" x="13.2" y="-7.4" textLength="17.2" lengthAdjust="spacingAndGlyphs">fold</tspan><tspan font-size="20" x="38.4" y="-0.2">[</tspan><tspan font-size="17.5" x="42.0" y="0" textLength="23.4" lengthAdjust="spacingAndGlyphs">fm</tspan><tspan font-size="12.3" x="66.1" y="-7.4" textLength="12" lengthAdjust="spacingAndGlyphs">−3</tspan><tspan font-size="20" x="78.3" y="-0.2">]</tspan></text>
</g>
<g transform="translate(17.8,382.1) rotate(-90)">
<text class="cm" font-size="17.5"><tspan class="it" font-size="18.5" x="0" y="0">ρ</tspan><tspan font-size="12.3" x="11.4" y="4.3">p</tspan><tspan font-size="12.3" x="13.2" y="-7.4" textLength="17.2" lengthAdjust="spacingAndGlyphs">fold</tspan><tspan font-size="20" x="38.4" y="-0.2">[</tspan><tspan font-size="17.5" x="42.0" y="0" textLength="23.4" lengthAdjust="spacingAndGlyphs">fm</tspan><tspan font-size="12.3" x="66.1" y="-7.4" textLength="12" lengthAdjust="spacingAndGlyphs">−3</tspan><tspan font-size="20" x="78.3" y="-0.2">]</tspan></text>
</g>
<g transform="translate(17.8,607.8) rotate(-90)">
<text class="cm" font-size="17.5"><tspan class="it" font-size="18.5" x="0" y="0">ρ</tspan><tspan font-size="12.3" x="11.0" y="4.3">p</tspan><tspan font-size="12.3" x="13.2" y="-7.4" textLength="17.2" lengthAdjust="spacingAndGlyphs">fold</tspan><tspan x="36.9" y="-0.9" textLength="11.4" lengthAdjust="spacingAndGlyphs">−</tspan><tspan class="it" font-size="18.5" x="55.2" y="0">ρ</tspan><tspan font-size="12.3" x="64.6" y="4.3" textLength="36.6" lengthAdjust="spacingAndGlyphs">charge</tspan><tspan font-size="20" x="107.4" y="-0.2">[</tspan><tspan font-size="17.5" x="111.0" y="0" textLength="23.4" lengthAdjust="spacingAndGlyphs">fm</tspan><tspan font-size="12.3" x="135.1" y="-7.4" textLength="12" lengthAdjust="spacingAndGlyphs">−3</tspan><tspan font-size="20" x="147.3" y="-0.2">]</tspan></text>
</g>
<line class="cv" x1="131.7" y1="254.9" x2="181.0" y2="254.9" stroke="#000000"/>
<text class="cm" font-size="16.5"><tspan font-size="10.8" x="184.6" y="254.0" textLength="10.0" lengthAdjust="spacingAndGlyphs">12</tspan><tspan x="195.6" y="260.0" textLength="11.4" lengthAdjust="spacingAndGlyphs">C</tspan></text>
<line class="cv" x1="131.7" y1="274.4" x2="181.0" y2="274.4" stroke="#ff0000" stroke-dasharray="2.14,2.14"/>
<text class="cm" font-size="16.5"><tspan font-size="10.8" x="184.6" y="273.5" textLength="10.0" lengthAdjust="spacingAndGlyphs">16</tspan><tspan x="195.6" y="279.5" textLength="12.3" lengthAdjust="spacingAndGlyphs">O</tspan></text>
<line class="cv" x1="131.7" y1="293.9" x2="181.0" y2="293.9" stroke="#009944" stroke-dasharray="5.35,3.21"/>
<text class="cm" font-size="16.5"><tspan font-size="10.8" x="184.6" y="293.0" textLength="10.0" lengthAdjust="spacingAndGlyphs">20</tspan><tspan x="196.2" y="299.0" textLength="17.3" lengthAdjust="spacingAndGlyphs">Ne</tspan></text>
<line class="cv" x1="235.7" y1="254.9" x2="284.2" y2="254.9" stroke="#0000ff" stroke-dasharray="2.14,2.14,6.42,2.14"/>
<text class="cm" font-size="16.5"><tspan font-size="10.8" x="289.5" y="254.0" textLength="10.0" lengthAdjust="spacingAndGlyphs">40</tspan><tspan x="300.4" y="260.0" textLength="17.2" lengthAdjust="spacingAndGlyphs">Ar</tspan></text>
<line class="cv" x1="235.7" y1="274.4" x2="284.2" y2="274.4" stroke="#ff00ff" stroke-dasharray="2.14,2.14,2.14,2.14,6.42,2.14"/>
<text class="cm" font-size="16.5"><tspan font-size="10.8" x="289.5" y="273.5" textLength="10.0" lengthAdjust="spacingAndGlyphs">76</tspan><tspan x="300.2" y="279.5" textLength="18.5" lengthAdjust="spacingAndGlyphs">Ge</tspan></text>
<line class="cv" x1="235.7" y1="293.9" x2="284.2" y2="293.9" stroke="#00c8ff" stroke-dasharray="9.63,3.21"/>
<text class="cm" font-size="16.5"><tspan font-size="10.8" x="289.5" y="293.0" textLength="15.9" lengthAdjust="spacingAndGlyphs">132</tspan><tspan x="305.4" y="299.0" textLength="18.3" lengthAdjust="spacingAndGlyphs">Xe</tspan></text>
<line class="cv" x1="235.7" y1="313.4" x2="284.2" y2="313.4" stroke="#ff9944" stroke-dasharray="2.14,2.14,10.70,2.14"/>
<text class="cm" font-size="16.5"><tspan font-size="10.8" x="289.5" y="312.5" textLength="15.9" lengthAdjust="spacingAndGlyphs">208</tspan><tspan x="306.8" y="318.5" textLength="17.6" lengthAdjust="spacingAndGlyphs">Pb</tspan></text>
</g>
</svg>
</body></html>
